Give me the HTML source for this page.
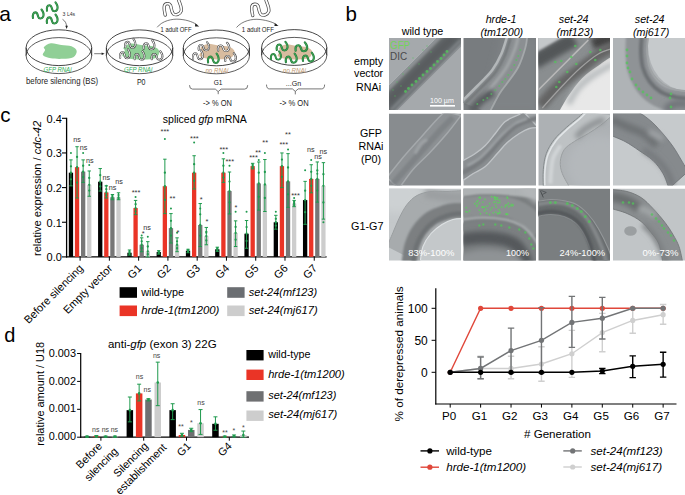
<!DOCTYPE html>
<html><head><meta charset="utf-8"><style>
html,body{margin:0;padding:0;background:#fff;overflow:hidden;}
svg{display:block;}
text{font-family:"Liberation Sans",sans-serif;}
</style></head><body>
<svg width="685" height="495" viewBox="0 0 685 495">
<rect width="685" height="495" fill="#fff"/>
<line x1="66.6" y1="117.80" x2="66.6" y2="257.50" stroke="#000" stroke-width="1.3"/>
<line x1="66.0" y1="256.9" x2="326.6" y2="256.9" stroke="#000" stroke-width="1.3"/>
<line x1="61.99999999999999" y1="256.90" x2="66.6" y2="256.90" stroke="#000" stroke-width="1.1"/>
<text x="61.90" y="261.30" font-size="11" text-anchor="end">0.0</text>
<line x1="61.99999999999999" y1="222.25" x2="66.6" y2="222.25" stroke="#000" stroke-width="1.1"/>
<text x="61.90" y="226.65" font-size="11" text-anchor="end">0.1</text>
<line x1="61.99999999999999" y1="187.60" x2="66.6" y2="187.60" stroke="#000" stroke-width="1.1"/>
<text x="61.90" y="192.00" font-size="11" text-anchor="end">0.2</text>
<line x1="61.99999999999999" y1="152.95" x2="66.6" y2="152.95" stroke="#000" stroke-width="1.1"/>
<text x="61.90" y="157.35" font-size="11" text-anchor="end">0.3</text>
<line x1="61.99999999999999" y1="118.30" x2="66.6" y2="118.30" stroke="#000" stroke-width="1.1"/>
<text x="61.90" y="122.70" font-size="11" text-anchor="end">0.4</text>
<text transform="translate(41.2,256) rotate(-90)" font-size="11.1" fill="#000">relative expression / <tspan font-style="italic">cdc-42</tspan></text>
<text x="162.8" y="122.6" font-size="10.5">spliced <tspan font-style="italic">gfp</tspan> mRNA</text>
<rect x="68.80" y="172.70" width="4.3" height="84.20" fill="#000"/>
<rect x="74.90" y="167.16" width="4.3" height="89.74" fill="#ea3426"/>
<rect x="81.00" y="171.66" width="4.3" height="85.24" fill="#777777"/>
<rect x="87.10" y="184.83" width="4.3" height="72.07" fill="#cdcdcd"/>
<line x1="80.10" y1="256.9" x2="80.10" y2="260.7" stroke="#000" stroke-width="1"/>
<rect x="98.07" y="181.71" width="4.3" height="75.19" fill="#000"/>
<rect x="104.17" y="192.45" width="4.3" height="64.45" fill="#ea3426"/>
<rect x="110.27" y="197.30" width="4.3" height="59.60" fill="#777777"/>
<rect x="116.37" y="197.30" width="4.3" height="59.60" fill="#cdcdcd"/>
<line x1="109.37" y1="256.9" x2="109.37" y2="260.7" stroke="#000" stroke-width="1"/>
<rect x="127.34" y="252.74" width="4.3" height="4.16" fill="#000"/>
<rect x="133.44" y="208.04" width="4.3" height="48.86" fill="#ea3426"/>
<rect x="139.54" y="244.77" width="4.3" height="12.13" fill="#777777"/>
<rect x="145.64" y="251.36" width="4.3" height="5.54" fill="#cdcdcd"/>
<line x1="138.64" y1="256.9" x2="138.64" y2="260.7" stroke="#000" stroke-width="1"/>
<rect x="156.61" y="252.05" width="4.3" height="4.85" fill="#000"/>
<rect x="162.71" y="186.21" width="4.3" height="70.69" fill="#ea3426"/>
<rect x="168.81" y="228.14" width="4.3" height="28.76" fill="#777777"/>
<rect x="174.91" y="244.77" width="4.3" height="12.13" fill="#cdcdcd"/>
<line x1="167.91" y1="256.9" x2="167.91" y2="260.7" stroke="#000" stroke-width="1"/>
<rect x="185.88" y="250.66" width="4.3" height="6.24" fill="#000"/>
<rect x="191.98" y="172.70" width="4.3" height="84.20" fill="#ea3426"/>
<rect x="198.08" y="225.02" width="4.3" height="31.88" fill="#777777"/>
<rect x="204.18" y="236.11" width="4.3" height="20.79" fill="#cdcdcd"/>
<line x1="197.18" y1="256.9" x2="197.18" y2="260.7" stroke="#000" stroke-width="1"/>
<rect x="215.15" y="249.28" width="4.3" height="7.62" fill="#000"/>
<rect x="221.25" y="172.70" width="4.3" height="84.20" fill="#ea3426"/>
<rect x="227.35" y="191.06" width="4.3" height="65.83" fill="#777777"/>
<rect x="233.45" y="232.99" width="4.3" height="23.91" fill="#cdcdcd"/>
<line x1="226.45" y1="256.9" x2="226.45" y2="260.7" stroke="#000" stroke-width="1"/>
<rect x="244.42" y="233.68" width="4.3" height="23.22" fill="#000"/>
<rect x="250.52" y="166.12" width="4.3" height="90.78" fill="#ea3426"/>
<rect x="256.62" y="183.44" width="4.3" height="73.46" fill="#777777"/>
<rect x="262.72" y="184.48" width="4.3" height="72.42" fill="#cdcdcd"/>
<line x1="255.72" y1="256.9" x2="255.72" y2="260.7" stroke="#000" stroke-width="1"/>
<rect x="273.69" y="222.25" width="4.3" height="34.65" fill="#000"/>
<rect x="279.79" y="166.12" width="4.3" height="90.78" fill="#ea3426"/>
<rect x="285.89" y="181.36" width="4.3" height="75.54" fill="#777777"/>
<rect x="291.99" y="203.54" width="4.3" height="53.36" fill="#cdcdcd"/>
<line x1="284.99" y1="256.9" x2="284.99" y2="260.7" stroke="#000" stroke-width="1"/>
<rect x="302.96" y="200.07" width="4.3" height="56.83" fill="#000"/>
<rect x="309.06" y="178.94" width="4.3" height="77.96" fill="#ea3426"/>
<rect x="315.16" y="178.94" width="4.3" height="77.96" fill="#777777"/>
<rect x="321.26" y="185.87" width="4.3" height="71.03" fill="#cdcdcd"/>
<line x1="314.26" y1="256.9" x2="314.26" y2="260.7" stroke="#000" stroke-width="1"/>
<line x1="70.95" y1="159.88" x2="70.95" y2="185.87" stroke="#1f9a4e" stroke-width="1.0"/>
<line x1="69.25" y1="159.88" x2="72.65" y2="159.88" stroke="#1f9a4e" stroke-width="1.0"/>
<line x1="69.25" y1="185.87" x2="72.65" y2="185.87" stroke="#1f9a4e" stroke-width="1.0"/>
<circle cx="70.95" cy="172.70" r="1.15" fill="#1f9a4e"/>
<circle cx="70.95" cy="166.29" r="1.15" fill="#1f9a4e"/>
<circle cx="70.95" cy="179.28" r="1.15" fill="#1f9a4e"/>
<line x1="77.05" y1="146.71" x2="77.05" y2="197.99" stroke="#1f9a4e" stroke-width="1.0"/>
<line x1="75.35" y1="146.71" x2="78.75" y2="146.71" stroke="#1f9a4e" stroke-width="1.0"/>
<line x1="75.35" y1="197.99" x2="78.75" y2="197.99" stroke="#1f9a4e" stroke-width="1.0"/>
<circle cx="77.05" cy="167.16" r="1.15" fill="#1f9a4e"/>
<circle cx="77.05" cy="156.93" r="1.15" fill="#1f9a4e"/>
<circle cx="77.05" cy="182.58" r="1.15" fill="#1f9a4e"/>
<line x1="83.15" y1="159.88" x2="83.15" y2="182.40" stroke="#1f9a4e" stroke-width="1.0"/>
<line x1="81.45" y1="159.88" x2="84.85" y2="159.88" stroke="#1f9a4e" stroke-width="1.0"/>
<line x1="81.45" y1="182.40" x2="84.85" y2="182.40" stroke="#1f9a4e" stroke-width="1.0"/>
<circle cx="83.15" cy="171.66" r="1.15" fill="#1f9a4e"/>
<circle cx="83.15" cy="165.77" r="1.15" fill="#1f9a4e"/>
<circle cx="83.15" cy="177.03" r="1.15" fill="#1f9a4e"/>
<line x1="89.25" y1="170.97" x2="89.25" y2="196.26" stroke="#1f9a4e" stroke-width="1.0"/>
<line x1="87.55" y1="170.97" x2="90.95" y2="170.97" stroke="#1f9a4e" stroke-width="1.0"/>
<line x1="87.55" y1="196.26" x2="90.95" y2="196.26" stroke="#1f9a4e" stroke-width="1.0"/>
<circle cx="89.25" cy="184.83" r="1.15" fill="#1f9a4e"/>
<circle cx="89.25" cy="177.90" r="1.15" fill="#1f9a4e"/>
<circle cx="89.25" cy="190.55" r="1.15" fill="#1f9a4e"/>
<line x1="100.22" y1="168.54" x2="100.22" y2="191.06" stroke="#1f9a4e" stroke-width="1.0"/>
<line x1="98.52" y1="168.54" x2="101.92" y2="168.54" stroke="#1f9a4e" stroke-width="1.0"/>
<line x1="98.52" y1="191.06" x2="101.92" y2="191.06" stroke="#1f9a4e" stroke-width="1.0"/>
<circle cx="100.22" cy="181.71" r="1.15" fill="#1f9a4e"/>
<circle cx="100.22" cy="175.13" r="1.15" fill="#1f9a4e"/>
<circle cx="100.22" cy="186.39" r="1.15" fill="#1f9a4e"/>
<line x1="106.32" y1="185.87" x2="106.32" y2="197.99" stroke="#1f9a4e" stroke-width="1.0"/>
<line x1="104.62" y1="185.87" x2="108.02" y2="185.87" stroke="#1f9a4e" stroke-width="1.0"/>
<line x1="104.62" y1="197.99" x2="108.02" y2="197.99" stroke="#1f9a4e" stroke-width="1.0"/>
<circle cx="106.32" cy="192.45" r="1.15" fill="#1f9a4e"/>
<circle cx="106.32" cy="189.16" r="1.15" fill="#1f9a4e"/>
<circle cx="106.32" cy="195.22" r="1.15" fill="#1f9a4e"/>
<line x1="112.42" y1="194.53" x2="112.42" y2="199.73" stroke="#1f9a4e" stroke-width="1.0"/>
<line x1="110.72" y1="194.53" x2="114.12" y2="194.53" stroke="#1f9a4e" stroke-width="1.0"/>
<line x1="110.72" y1="199.73" x2="114.12" y2="199.73" stroke="#1f9a4e" stroke-width="1.0"/>
<circle cx="112.42" cy="197.30" r="1.15" fill="#1f9a4e"/>
<circle cx="112.42" cy="195.92" r="1.15" fill="#1f9a4e"/>
<circle cx="112.42" cy="198.51" r="1.15" fill="#1f9a4e"/>
<line x1="118.52" y1="192.80" x2="118.52" y2="199.73" stroke="#1f9a4e" stroke-width="1.0"/>
<line x1="116.82" y1="192.80" x2="120.22" y2="192.80" stroke="#1f9a4e" stroke-width="1.0"/>
<line x1="116.82" y1="199.73" x2="120.22" y2="199.73" stroke="#1f9a4e" stroke-width="1.0"/>
<circle cx="118.52" cy="197.30" r="1.15" fill="#1f9a4e"/>
<circle cx="118.52" cy="195.05" r="1.15" fill="#1f9a4e"/>
<circle cx="118.52" cy="198.51" r="1.15" fill="#1f9a4e"/>
<line x1="129.49" y1="249.97" x2="129.49" y2="255.17" stroke="#1f9a4e" stroke-width="1.0"/>
<line x1="127.79" y1="249.97" x2="131.19" y2="249.97" stroke="#1f9a4e" stroke-width="1.0"/>
<line x1="127.79" y1="255.17" x2="131.19" y2="255.17" stroke="#1f9a4e" stroke-width="1.0"/>
<circle cx="129.49" cy="252.74" r="1.15" fill="#1f9a4e"/>
<circle cx="129.49" cy="251.36" r="1.15" fill="#1f9a4e"/>
<circle cx="129.49" cy="253.95" r="1.15" fill="#1f9a4e"/>
<line x1="135.59" y1="200.42" x2="135.59" y2="214.63" stroke="#1f9a4e" stroke-width="1.0"/>
<line x1="133.89" y1="200.42" x2="137.29" y2="200.42" stroke="#1f9a4e" stroke-width="1.0"/>
<line x1="133.89" y1="214.63" x2="137.29" y2="214.63" stroke="#1f9a4e" stroke-width="1.0"/>
<circle cx="135.59" cy="208.04" r="1.15" fill="#1f9a4e"/>
<circle cx="135.59" cy="204.23" r="1.15" fill="#1f9a4e"/>
<circle cx="135.59" cy="211.34" r="1.15" fill="#1f9a4e"/>
<line x1="141.69" y1="237.84" x2="141.69" y2="251.70" stroke="#1f9a4e" stroke-width="1.0"/>
<line x1="139.99" y1="237.84" x2="143.39" y2="237.84" stroke="#1f9a4e" stroke-width="1.0"/>
<line x1="139.99" y1="251.70" x2="143.39" y2="251.70" stroke="#1f9a4e" stroke-width="1.0"/>
<circle cx="141.69" cy="244.77" r="1.15" fill="#1f9a4e"/>
<circle cx="141.69" cy="241.31" r="1.15" fill="#1f9a4e"/>
<circle cx="141.69" cy="248.24" r="1.15" fill="#1f9a4e"/>
<line x1="147.79" y1="241.65" x2="147.79" y2="256.90" stroke="#1f9a4e" stroke-width="1.0"/>
<line x1="146.09" y1="241.65" x2="149.49" y2="241.65" stroke="#1f9a4e" stroke-width="1.0"/>
<line x1="146.09" y1="256.90" x2="149.49" y2="256.90" stroke="#1f9a4e" stroke-width="1.0"/>
<circle cx="147.79" cy="251.36" r="1.15" fill="#1f9a4e"/>
<circle cx="147.79" cy="246.50" r="1.15" fill="#1f9a4e"/>
<circle cx="147.79" cy="254.13" r="1.15" fill="#1f9a4e"/>
<line x1="158.76" y1="250.66" x2="158.76" y2="254.13" stroke="#1f9a4e" stroke-width="1.0"/>
<line x1="157.06" y1="250.66" x2="160.46" y2="250.66" stroke="#1f9a4e" stroke-width="1.0"/>
<line x1="157.06" y1="254.13" x2="160.46" y2="254.13" stroke="#1f9a4e" stroke-width="1.0"/>
<circle cx="158.76" cy="252.05" r="1.15" fill="#1f9a4e"/>
<circle cx="158.76" cy="251.36" r="1.15" fill="#1f9a4e"/>
<circle cx="158.76" cy="253.09" r="1.15" fill="#1f9a4e"/>
<line x1="164.86" y1="159.19" x2="164.86" y2="213.59" stroke="#1f9a4e" stroke-width="1.0"/>
<line x1="163.16" y1="159.19" x2="166.56" y2="159.19" stroke="#1f9a4e" stroke-width="1.0"/>
<line x1="163.16" y1="213.59" x2="166.56" y2="213.59" stroke="#1f9a4e" stroke-width="1.0"/>
<circle cx="164.86" cy="186.21" r="1.15" fill="#1f9a4e"/>
<circle cx="164.86" cy="172.70" r="1.15" fill="#1f9a4e"/>
<circle cx="164.86" cy="199.90" r="1.15" fill="#1f9a4e"/>
<line x1="170.96" y1="213.59" x2="170.96" y2="243.04" stroke="#1f9a4e" stroke-width="1.0"/>
<line x1="169.26" y1="213.59" x2="172.66" y2="213.59" stroke="#1f9a4e" stroke-width="1.0"/>
<line x1="169.26" y1="243.04" x2="172.66" y2="243.04" stroke="#1f9a4e" stroke-width="1.0"/>
<circle cx="170.96" cy="228.14" r="1.15" fill="#1f9a4e"/>
<circle cx="170.96" cy="220.86" r="1.15" fill="#1f9a4e"/>
<circle cx="170.96" cy="235.59" r="1.15" fill="#1f9a4e"/>
<line x1="177.06" y1="237.84" x2="177.06" y2="251.70" stroke="#1f9a4e" stroke-width="1.0"/>
<line x1="175.36" y1="237.84" x2="178.76" y2="237.84" stroke="#1f9a4e" stroke-width="1.0"/>
<line x1="175.36" y1="251.70" x2="178.76" y2="251.70" stroke="#1f9a4e" stroke-width="1.0"/>
<circle cx="177.06" cy="244.77" r="1.15" fill="#1f9a4e"/>
<circle cx="177.06" cy="241.31" r="1.15" fill="#1f9a4e"/>
<circle cx="177.06" cy="248.24" r="1.15" fill="#1f9a4e"/>
<line x1="188.03" y1="249.28" x2="188.03" y2="252.74" stroke="#1f9a4e" stroke-width="1.0"/>
<line x1="186.33" y1="249.28" x2="189.73" y2="249.28" stroke="#1f9a4e" stroke-width="1.0"/>
<line x1="186.33" y1="252.74" x2="189.73" y2="252.74" stroke="#1f9a4e" stroke-width="1.0"/>
<circle cx="188.03" cy="250.66" r="1.15" fill="#1f9a4e"/>
<circle cx="188.03" cy="249.97" r="1.15" fill="#1f9a4e"/>
<circle cx="188.03" cy="251.70" r="1.15" fill="#1f9a4e"/>
<line x1="194.13" y1="155.72" x2="194.13" y2="188.99" stroke="#1f9a4e" stroke-width="1.0"/>
<line x1="192.43" y1="155.72" x2="195.83" y2="155.72" stroke="#1f9a4e" stroke-width="1.0"/>
<line x1="192.43" y1="188.99" x2="195.83" y2="188.99" stroke="#1f9a4e" stroke-width="1.0"/>
<circle cx="194.13" cy="172.70" r="1.15" fill="#1f9a4e"/>
<circle cx="194.13" cy="164.21" r="1.15" fill="#1f9a4e"/>
<circle cx="194.13" cy="180.84" r="1.15" fill="#1f9a4e"/>
<line x1="200.23" y1="203.54" x2="200.23" y2="246.50" stroke="#1f9a4e" stroke-width="1.0"/>
<line x1="198.53" y1="203.54" x2="201.93" y2="203.54" stroke="#1f9a4e" stroke-width="1.0"/>
<line x1="198.53" y1="246.50" x2="201.93" y2="246.50" stroke="#1f9a4e" stroke-width="1.0"/>
<circle cx="200.23" cy="225.02" r="1.15" fill="#1f9a4e"/>
<circle cx="200.23" cy="214.28" r="1.15" fill="#1f9a4e"/>
<circle cx="200.23" cy="235.76" r="1.15" fill="#1f9a4e"/>
<line x1="206.33" y1="227.45" x2="206.33" y2="244.77" stroke="#1f9a4e" stroke-width="1.0"/>
<line x1="204.63" y1="227.45" x2="208.03" y2="227.45" stroke="#1f9a4e" stroke-width="1.0"/>
<line x1="204.63" y1="244.77" x2="208.03" y2="244.77" stroke="#1f9a4e" stroke-width="1.0"/>
<circle cx="206.33" cy="236.11" r="1.15" fill="#1f9a4e"/>
<circle cx="206.33" cy="231.78" r="1.15" fill="#1f9a4e"/>
<circle cx="206.33" cy="240.44" r="1.15" fill="#1f9a4e"/>
<line x1="217.30" y1="247.20" x2="217.30" y2="251.36" stroke="#1f9a4e" stroke-width="1.0"/>
<line x1="215.60" y1="247.20" x2="219.00" y2="247.20" stroke="#1f9a4e" stroke-width="1.0"/>
<line x1="215.60" y1="251.36" x2="219.00" y2="251.36" stroke="#1f9a4e" stroke-width="1.0"/>
<circle cx="217.30" cy="249.28" r="1.15" fill="#1f9a4e"/>
<circle cx="217.30" cy="248.24" r="1.15" fill="#1f9a4e"/>
<circle cx="217.30" cy="250.32" r="1.15" fill="#1f9a4e"/>
<line x1="223.40" y1="158.84" x2="223.40" y2="182.40" stroke="#1f9a4e" stroke-width="1.0"/>
<line x1="221.70" y1="158.84" x2="225.10" y2="158.84" stroke="#1f9a4e" stroke-width="1.0"/>
<line x1="221.70" y1="182.40" x2="225.10" y2="182.40" stroke="#1f9a4e" stroke-width="1.0"/>
<circle cx="223.40" cy="172.70" r="1.15" fill="#1f9a4e"/>
<circle cx="223.40" cy="165.77" r="1.15" fill="#1f9a4e"/>
<circle cx="223.40" cy="177.55" r="1.15" fill="#1f9a4e"/>
<line x1="229.50" y1="172.01" x2="229.50" y2="213.93" stroke="#1f9a4e" stroke-width="1.0"/>
<line x1="227.80" y1="172.01" x2="231.20" y2="172.01" stroke="#1f9a4e" stroke-width="1.0"/>
<line x1="227.80" y1="213.93" x2="231.20" y2="213.93" stroke="#1f9a4e" stroke-width="1.0"/>
<circle cx="229.50" cy="191.06" r="1.15" fill="#1f9a4e"/>
<circle cx="229.50" cy="181.54" r="1.15" fill="#1f9a4e"/>
<circle cx="229.50" cy="202.50" r="1.15" fill="#1f9a4e"/>
<line x1="235.60" y1="220.86" x2="235.60" y2="246.50" stroke="#1f9a4e" stroke-width="1.0"/>
<line x1="233.90" y1="220.86" x2="237.30" y2="220.86" stroke="#1f9a4e" stroke-width="1.0"/>
<line x1="233.90" y1="246.50" x2="237.30" y2="246.50" stroke="#1f9a4e" stroke-width="1.0"/>
<circle cx="235.60" cy="232.99" r="1.15" fill="#1f9a4e"/>
<circle cx="235.60" cy="226.93" r="1.15" fill="#1f9a4e"/>
<circle cx="235.60" cy="239.75" r="1.15" fill="#1f9a4e"/>
<line x1="246.57" y1="220.52" x2="246.57" y2="248.24" stroke="#1f9a4e" stroke-width="1.0"/>
<line x1="244.87" y1="220.52" x2="248.27" y2="220.52" stroke="#1f9a4e" stroke-width="1.0"/>
<line x1="244.87" y1="248.24" x2="248.27" y2="248.24" stroke="#1f9a4e" stroke-width="1.0"/>
<circle cx="246.57" cy="233.68" r="1.15" fill="#1f9a4e"/>
<circle cx="246.57" cy="227.10" r="1.15" fill="#1f9a4e"/>
<circle cx="246.57" cy="240.96" r="1.15" fill="#1f9a4e"/>
<line x1="252.67" y1="163.34" x2="252.67" y2="168.89" stroke="#1f9a4e" stroke-width="1.0"/>
<line x1="250.97" y1="163.34" x2="254.37" y2="163.34" stroke="#1f9a4e" stroke-width="1.0"/>
<line x1="250.97" y1="168.89" x2="254.37" y2="168.89" stroke="#1f9a4e" stroke-width="1.0"/>
<circle cx="252.67" cy="166.12" r="1.15" fill="#1f9a4e"/>
<circle cx="252.67" cy="164.73" r="1.15" fill="#1f9a4e"/>
<circle cx="252.67" cy="167.50" r="1.15" fill="#1f9a4e"/>
<line x1="258.77" y1="161.96" x2="258.77" y2="210.12" stroke="#1f9a4e" stroke-width="1.0"/>
<line x1="257.07" y1="161.96" x2="260.47" y2="161.96" stroke="#1f9a4e" stroke-width="1.0"/>
<line x1="257.07" y1="210.12" x2="260.47" y2="210.12" stroke="#1f9a4e" stroke-width="1.0"/>
<circle cx="258.77" cy="183.44" r="1.15" fill="#1f9a4e"/>
<circle cx="258.77" cy="172.70" r="1.15" fill="#1f9a4e"/>
<circle cx="258.77" cy="196.78" r="1.15" fill="#1f9a4e"/>
<line x1="264.87" y1="159.53" x2="264.87" y2="211.51" stroke="#1f9a4e" stroke-width="1.0"/>
<line x1="263.17" y1="159.53" x2="266.57" y2="159.53" stroke="#1f9a4e" stroke-width="1.0"/>
<line x1="263.17" y1="211.51" x2="266.57" y2="211.51" stroke="#1f9a4e" stroke-width="1.0"/>
<circle cx="264.87" cy="184.48" r="1.15" fill="#1f9a4e"/>
<circle cx="264.87" cy="172.01" r="1.15" fill="#1f9a4e"/>
<circle cx="264.87" cy="197.99" r="1.15" fill="#1f9a4e"/>
<line x1="275.84" y1="215.32" x2="275.84" y2="229.18" stroke="#1f9a4e" stroke-width="1.0"/>
<line x1="274.14" y1="215.32" x2="277.54" y2="215.32" stroke="#1f9a4e" stroke-width="1.0"/>
<line x1="274.14" y1="229.18" x2="277.54" y2="229.18" stroke="#1f9a4e" stroke-width="1.0"/>
<circle cx="275.84" cy="222.25" r="1.15" fill="#1f9a4e"/>
<circle cx="275.84" cy="218.78" r="1.15" fill="#1f9a4e"/>
<circle cx="275.84" cy="225.71" r="1.15" fill="#1f9a4e"/>
<line x1="281.94" y1="152.95" x2="281.94" y2="187.60" stroke="#1f9a4e" stroke-width="1.0"/>
<line x1="280.24" y1="152.95" x2="283.64" y2="152.95" stroke="#1f9a4e" stroke-width="1.0"/>
<line x1="280.24" y1="187.60" x2="283.64" y2="187.60" stroke="#1f9a4e" stroke-width="1.0"/>
<circle cx="281.94" cy="166.12" r="1.15" fill="#1f9a4e"/>
<circle cx="281.94" cy="159.53" r="1.15" fill="#1f9a4e"/>
<circle cx="281.94" cy="176.86" r="1.15" fill="#1f9a4e"/>
<line x1="288.04" y1="153.64" x2="288.04" y2="207.35" stroke="#1f9a4e" stroke-width="1.0"/>
<line x1="286.34" y1="153.64" x2="289.74" y2="153.64" stroke="#1f9a4e" stroke-width="1.0"/>
<line x1="286.34" y1="207.35" x2="289.74" y2="207.35" stroke="#1f9a4e" stroke-width="1.0"/>
<circle cx="288.04" cy="181.36" r="1.15" fill="#1f9a4e"/>
<circle cx="288.04" cy="167.50" r="1.15" fill="#1f9a4e"/>
<circle cx="288.04" cy="194.36" r="1.15" fill="#1f9a4e"/>
<line x1="294.14" y1="200.42" x2="294.14" y2="206.66" stroke="#1f9a4e" stroke-width="1.0"/>
<line x1="292.44" y1="200.42" x2="295.84" y2="200.42" stroke="#1f9a4e" stroke-width="1.0"/>
<line x1="292.44" y1="206.66" x2="295.84" y2="206.66" stroke="#1f9a4e" stroke-width="1.0"/>
<circle cx="294.14" cy="203.54" r="1.15" fill="#1f9a4e"/>
<circle cx="294.14" cy="201.98" r="1.15" fill="#1f9a4e"/>
<circle cx="294.14" cy="205.10" r="1.15" fill="#1f9a4e"/>
<line x1="305.11" y1="181.36" x2="305.11" y2="224.33" stroke="#1f9a4e" stroke-width="1.0"/>
<line x1="303.41" y1="181.36" x2="306.81" y2="181.36" stroke="#1f9a4e" stroke-width="1.0"/>
<line x1="303.41" y1="224.33" x2="306.81" y2="224.33" stroke="#1f9a4e" stroke-width="1.0"/>
<circle cx="305.11" cy="200.07" r="1.15" fill="#1f9a4e"/>
<circle cx="305.11" cy="190.72" r="1.15" fill="#1f9a4e"/>
<circle cx="305.11" cy="212.20" r="1.15" fill="#1f9a4e"/>
<line x1="311.21" y1="164.73" x2="311.21" y2="192.80" stroke="#1f9a4e" stroke-width="1.0"/>
<line x1="309.51" y1="164.73" x2="312.91" y2="164.73" stroke="#1f9a4e" stroke-width="1.0"/>
<line x1="309.51" y1="192.80" x2="312.91" y2="192.80" stroke="#1f9a4e" stroke-width="1.0"/>
<circle cx="311.21" cy="178.94" r="1.15" fill="#1f9a4e"/>
<circle cx="311.21" cy="171.83" r="1.15" fill="#1f9a4e"/>
<circle cx="311.21" cy="185.87" r="1.15" fill="#1f9a4e"/>
<line x1="317.31" y1="161.96" x2="317.31" y2="202.15" stroke="#1f9a4e" stroke-width="1.0"/>
<line x1="315.61" y1="161.96" x2="319.01" y2="161.96" stroke="#1f9a4e" stroke-width="1.0"/>
<line x1="315.61" y1="202.15" x2="319.01" y2="202.15" stroke="#1f9a4e" stroke-width="1.0"/>
<circle cx="317.31" cy="178.94" r="1.15" fill="#1f9a4e"/>
<circle cx="317.31" cy="170.45" r="1.15" fill="#1f9a4e"/>
<circle cx="317.31" cy="190.55" r="1.15" fill="#1f9a4e"/>
<line x1="323.41" y1="162.65" x2="323.41" y2="219.13" stroke="#1f9a4e" stroke-width="1.0"/>
<line x1="321.71" y1="162.65" x2="325.11" y2="162.65" stroke="#1f9a4e" stroke-width="1.0"/>
<line x1="321.71" y1="219.13" x2="325.11" y2="219.13" stroke="#1f9a4e" stroke-width="1.0"/>
<circle cx="323.41" cy="185.87" r="1.15" fill="#1f9a4e"/>
<circle cx="323.41" cy="174.26" r="1.15" fill="#1f9a4e"/>
<circle cx="323.41" cy="202.50" r="1.15" fill="#1f9a4e"/>
<circle cx="70.95" cy="152.95" r="1.0" fill="#1f9a4e"/>
<circle cx="83.15" cy="152.95" r="1.0" fill="#1f9a4e"/>
<circle cx="89.25" cy="165.08" r="1.0" fill="#1f9a4e"/>
<circle cx="106.32" cy="185.87" r="1.0" fill="#1f9a4e"/>
<circle cx="135.59" cy="196.96" r="1.0" fill="#1f9a4e"/>
<circle cx="141.69" cy="235.42" r="1.0" fill="#1f9a4e"/>
<circle cx="147.79" cy="236.80" r="1.0" fill="#1f9a4e"/>
<circle cx="164.86" cy="139.09" r="1.0" fill="#1f9a4e"/>
<circle cx="170.96" cy="208.39" r="1.0" fill="#1f9a4e"/>
<circle cx="177.06" cy="232.64" r="1.0" fill="#1f9a4e"/>
<circle cx="194.13" cy="142.55" r="1.0" fill="#1f9a4e"/>
<circle cx="200.23" cy="208.39" r="1.0" fill="#1f9a4e"/>
<circle cx="206.33" cy="232.64" r="1.0" fill="#1f9a4e"/>
<circle cx="223.40" cy="152.95" r="1.0" fill="#1f9a4e"/>
<circle cx="229.50" cy="165.77" r="1.0" fill="#1f9a4e"/>
<circle cx="235.60" cy="211.85" r="1.0" fill="#1f9a4e"/>
<circle cx="246.57" cy="211.85" r="1.0" fill="#1f9a4e"/>
<circle cx="258.77" cy="159.88" r="1.0" fill="#1f9a4e"/>
<circle cx="264.87" cy="152.95" r="1.0" fill="#1f9a4e"/>
<circle cx="275.84" cy="211.85" r="1.0" fill="#1f9a4e"/>
<circle cx="288.04" cy="149.48" r="1.0" fill="#1f9a4e"/>
<circle cx="294.14" cy="197.99" r="1.0" fill="#1f9a4e"/>
<circle cx="305.11" cy="170.27" r="1.0" fill="#1f9a4e"/>
<circle cx="311.21" cy="159.88" r="1.0" fill="#1f9a4e"/>
<circle cx="317.31" cy="173.74" r="1.0" fill="#1f9a4e"/>
<circle cx="323.41" cy="222.25" r="1.0" fill="#1f9a4e"/>
<text transform="translate(83.80,269.00) rotate(-45)" font-size="11" text-anchor="end">Before silencing</text>
<text transform="translate(113.07,269.00) rotate(-45)" font-size="11" text-anchor="end">Empty vector</text>
<text transform="translate(142.34,269.00) rotate(-45)" font-size="11" text-anchor="end">G1</text>
<text transform="translate(171.61,269.00) rotate(-45)" font-size="11" text-anchor="end">G2</text>
<text transform="translate(200.88,269.00) rotate(-45)" font-size="11" text-anchor="end">G3</text>
<text transform="translate(230.15,269.00) rotate(-45)" font-size="11" text-anchor="end">G4</text>
<text transform="translate(259.42,269.00) rotate(-45)" font-size="11" text-anchor="end">G5</text>
<text transform="translate(288.69,269.00) rotate(-45)" font-size="11" text-anchor="end">G6</text>
<text transform="translate(317.96,269.00) rotate(-45)" font-size="11" text-anchor="end">G7</text>
<text x="73.30" y="141.50" font-size="7.2" fill="#333">ns</text>
<text x="79.70" y="149.60" font-size="7.2" fill="#333">ns</text>
<text x="85.90" y="163.30" font-size="7.2" fill="#333">ns</text>
<text x="102.40" y="179.50" font-size="7.2" fill="#333">ns</text>
<text x="108.80" y="189.50" font-size="7.2" fill="#333">ns</text>
<text x="115.30" y="183.50" font-size="7.2" fill="#333">ns</text>
<text x="131.70" y="195.30" font-size="7.4" fill="#333">***</text>
<text x="141.80" y="235.80" font-size="7.4" fill="#333">*</text>
<text x="143.20" y="229.70" font-size="7.2" fill="#333">ns</text>
<text x="160.50" y="134.30" font-size="7.4" fill="#333">***</text>
<text x="169.50" y="201.20" font-size="7.4" fill="#333">**</text>
<text x="176.60" y="234.80" font-size="7.4" fill="#333">*</text>
<text x="190.00" y="140.70" font-size="7.4" fill="#333">***</text>
<text x="199.70" y="201.80" font-size="7.4" fill="#333">*</text>
<text x="205.50" y="223.80" font-size="7.4" fill="#333">*</text>
<text x="219.40" y="151.70" font-size="7.4" fill="#333">***</text>
<text x="225.40" y="163.80" font-size="7.4" fill="#333">***</text>
<text x="234.60" y="209.80" font-size="7.4" fill="#333">*</text>
<text x="249.20" y="160.40" font-size="7.4" fill="#333">***</text>
<text x="255.20" y="155.10" font-size="7.4" fill="#333">**</text>
<text x="262.30" y="144.60" font-size="7.4" fill="#333">**</text>
<text x="279.40" y="147.20" font-size="7.4" fill="#333">***</text>
<text x="285.10" y="136.80" font-size="7.4" fill="#333">**</text>
<text x="291.20" y="198.40" font-size="7.4" fill="#333">***</text>
<text x="306.90" y="152.30" font-size="7.2" fill="#333">ns</text>
<text x="314.30" y="158.90" font-size="7.2" fill="#333">ns</text>
<text x="319.50" y="153.60" font-size="7.2" fill="#333">ns</text>
<rect x="119.6" y="287.2" width="17.4" height="10.6" fill="#000"/>
<text x="141.20" y="295.90" font-size="11" textLength="42.8" lengthAdjust="spacingAndGlyphs">wild-type</text>
<rect x="119.6" y="305.5" width="17.4" height="10.6" fill="#ea3426"/>
<text x="141.20" y="314.20" font-size="11" font-style="italic" textLength="78.2" lengthAdjust="spacingAndGlyphs">hrde-1(tm1200)</text>
<rect x="227.2" y="287.2" width="17.4" height="10.6" fill="#6b6e72"/>
<text x="248.80" y="295.90" font-size="11" font-style="italic" textLength="68.3" lengthAdjust="spacingAndGlyphs">set-24(mf123)</text>
<rect x="227.2" y="305.5" width="17.4" height="10.6" fill="#cdcdcd"/>
<text x="248.80" y="314.20" font-size="11" font-style="italic" textLength="68.8" lengthAdjust="spacingAndGlyphs">set-24(mj617)</text>
<text x="0.30" y="121.90" font-size="20.5">c</text>
<line x1="80.7" y1="353.00" x2="80.7" y2="437.80" stroke="#000" stroke-width="1.2"/>
<line x1="80.10000000000001" y1="437.2" x2="249" y2="437.2" stroke="#000" stroke-width="1.2"/>
<line x1="77.10000000000001" y1="437.20" x2="80.7" y2="437.20" stroke="#000" stroke-width="1"/>
<text x="76.00" y="440.30" font-size="10.9" text-anchor="end">0.000</text>
<line x1="77.10000000000001" y1="409.30" x2="80.7" y2="409.30" stroke="#000" stroke-width="1"/>
<text x="76.00" y="412.40" font-size="10.9" text-anchor="end">0.001</text>
<line x1="77.10000000000001" y1="381.40" x2="80.7" y2="381.40" stroke="#000" stroke-width="1"/>
<text x="76.00" y="384.50" font-size="10.9" text-anchor="end">0.002</text>
<line x1="77.10000000000001" y1="353.50" x2="80.7" y2="353.50" stroke="#000" stroke-width="1"/>
<text x="76.00" y="356.60" font-size="10.9" text-anchor="end">0.003</text>
<text transform="translate(43.9,445.8) rotate(-90)" font-size="10.95">relative amount / U18</text>
<text x="107.9" y="347.5" font-size="11.5">anti-<tspan font-style="italic">gfp</tspan> (exon 3) 22G</text>
<rect x="83.80" y="436.64" width="6.5" height="0.56" fill="#000"/>
<rect x="93.10" y="436.36" width="6.5" height="0.84" fill="#ea3426"/>
<rect x="102.40" y="436.64" width="6.5" height="0.56" fill="#6f7072"/>
<rect x="111.70" y="436.64" width="6.5" height="0.56" fill="#cdcdcd"/>
<line x1="100.90" y1="437.2" x2="100.90" y2="440.7" stroke="#000" stroke-width="1"/>
<rect x="126.60" y="410.14" width="6.5" height="27.06" fill="#000"/>
<rect x="135.90" y="393.40" width="6.5" height="43.80" fill="#ea3426"/>
<rect x="145.20" y="399.53" width="6.5" height="37.67" fill="#6f7072"/>
<rect x="154.50" y="382.52" width="6.5" height="54.68" fill="#cdcdcd"/>
<line x1="143.70" y1="437.2" x2="143.70" y2="440.7" stroke="#000" stroke-width="1"/>
<rect x="169.40" y="410.14" width="6.5" height="27.06" fill="#000"/>
<rect x="178.70" y="434.97" width="6.5" height="2.23" fill="#ea3426"/>
<rect x="188.00" y="429.95" width="6.5" height="7.25" fill="#6f7072"/>
<rect x="197.30" y="423.25" width="6.5" height="13.95" fill="#cdcdcd"/>
<line x1="186.50" y1="437.2" x2="186.50" y2="440.7" stroke="#000" stroke-width="1"/>
<rect x="212.20" y="423.81" width="6.5" height="13.39" fill="#000"/>
<rect x="221.50" y="436.64" width="6.5" height="0.56" fill="#ea3426"/>
<rect x="230.80" y="436.08" width="6.5" height="1.12" fill="#6f7072"/>
<rect x="240.10" y="434.97" width="6.5" height="2.23" fill="#cdcdcd"/>
<line x1="229.30" y1="437.2" x2="229.30" y2="440.7" stroke="#000" stroke-width="1"/>
<line x1="87.05" y1="436.08" x2="87.05" y2="437.20" stroke="#1f9a4e" stroke-width="1"/>
<line x1="85.05" y1="436.08" x2="89.05" y2="436.08" stroke="#1f9a4e" stroke-width="1"/>
<line x1="85.05" y1="437.20" x2="89.05" y2="437.20" stroke="#1f9a4e" stroke-width="1"/>
<circle cx="87.05" cy="436.64" r="1.3" fill="#1f9a4e"/>
<line x1="96.35" y1="435.53" x2="96.35" y2="437.20" stroke="#1f9a4e" stroke-width="1"/>
<line x1="94.35" y1="435.53" x2="98.35" y2="435.53" stroke="#1f9a4e" stroke-width="1"/>
<line x1="94.35" y1="437.20" x2="98.35" y2="437.20" stroke="#1f9a4e" stroke-width="1"/>
<circle cx="96.35" cy="436.36" r="1.3" fill="#1f9a4e"/>
<line x1="105.65" y1="436.08" x2="105.65" y2="437.20" stroke="#1f9a4e" stroke-width="1"/>
<line x1="103.65" y1="436.08" x2="107.65" y2="436.08" stroke="#1f9a4e" stroke-width="1"/>
<line x1="103.65" y1="437.20" x2="107.65" y2="437.20" stroke="#1f9a4e" stroke-width="1"/>
<circle cx="105.65" cy="436.64" r="1.3" fill="#1f9a4e"/>
<line x1="114.95" y1="436.08" x2="114.95" y2="437.20" stroke="#1f9a4e" stroke-width="1"/>
<line x1="112.95" y1="436.08" x2="116.95" y2="436.08" stroke="#1f9a4e" stroke-width="1"/>
<line x1="112.95" y1="437.20" x2="116.95" y2="437.20" stroke="#1f9a4e" stroke-width="1"/>
<circle cx="114.95" cy="436.64" r="1.3" fill="#1f9a4e"/>
<line x1="129.85" y1="397.02" x2="129.85" y2="421.86" stroke="#1f9a4e" stroke-width="1"/>
<line x1="127.85" y1="397.02" x2="131.85" y2="397.02" stroke="#1f9a4e" stroke-width="1"/>
<line x1="127.85" y1="421.86" x2="131.85" y2="421.86" stroke="#1f9a4e" stroke-width="1"/>
<circle cx="129.85" cy="410.14" r="1.3" fill="#1f9a4e"/>
<line x1="139.15" y1="384.19" x2="139.15" y2="400.93" stroke="#1f9a4e" stroke-width="1"/>
<line x1="137.15" y1="384.19" x2="141.15" y2="384.19" stroke="#1f9a4e" stroke-width="1"/>
<line x1="137.15" y1="400.93" x2="141.15" y2="400.93" stroke="#1f9a4e" stroke-width="1"/>
<circle cx="139.15" cy="393.40" r="1.3" fill="#1f9a4e"/>
<line x1="148.45" y1="398.70" x2="148.45" y2="400.93" stroke="#1f9a4e" stroke-width="1"/>
<line x1="146.45" y1="398.70" x2="150.45" y2="398.70" stroke="#1f9a4e" stroke-width="1"/>
<line x1="146.45" y1="400.93" x2="150.45" y2="400.93" stroke="#1f9a4e" stroke-width="1"/>
<circle cx="148.45" cy="399.53" r="1.3" fill="#1f9a4e"/>
<line x1="157.75" y1="362.15" x2="157.75" y2="405.67" stroke="#1f9a4e" stroke-width="1"/>
<line x1="155.75" y1="362.15" x2="159.75" y2="362.15" stroke="#1f9a4e" stroke-width="1"/>
<line x1="155.75" y1="405.67" x2="159.75" y2="405.67" stroke="#1f9a4e" stroke-width="1"/>
<circle cx="157.75" cy="382.52" r="1.3" fill="#1f9a4e"/>
<line x1="172.65" y1="403.72" x2="172.65" y2="419.62" stroke="#1f9a4e" stroke-width="1"/>
<line x1="170.65" y1="403.72" x2="174.65" y2="403.72" stroke="#1f9a4e" stroke-width="1"/>
<line x1="170.65" y1="419.62" x2="174.65" y2="419.62" stroke="#1f9a4e" stroke-width="1"/>
<circle cx="172.65" cy="410.14" r="1.3" fill="#1f9a4e"/>
<line x1="181.95" y1="433.29" x2="181.95" y2="436.36" stroke="#1f9a4e" stroke-width="1"/>
<line x1="179.95" y1="433.29" x2="183.95" y2="433.29" stroke="#1f9a4e" stroke-width="1"/>
<line x1="179.95" y1="436.36" x2="183.95" y2="436.36" stroke="#1f9a4e" stroke-width="1"/>
<circle cx="181.95" cy="434.97" r="1.3" fill="#1f9a4e"/>
<line x1="191.25" y1="428.27" x2="191.25" y2="431.62" stroke="#1f9a4e" stroke-width="1"/>
<line x1="189.25" y1="428.27" x2="193.25" y2="428.27" stroke="#1f9a4e" stroke-width="1"/>
<line x1="189.25" y1="431.62" x2="193.25" y2="431.62" stroke="#1f9a4e" stroke-width="1"/>
<circle cx="191.25" cy="429.95" r="1.3" fill="#1f9a4e"/>
<line x1="200.55" y1="409.58" x2="200.55" y2="434.41" stroke="#1f9a4e" stroke-width="1"/>
<line x1="198.55" y1="409.58" x2="202.55" y2="409.58" stroke="#1f9a4e" stroke-width="1"/>
<line x1="198.55" y1="434.41" x2="202.55" y2="434.41" stroke="#1f9a4e" stroke-width="1"/>
<circle cx="200.55" cy="423.25" r="1.3" fill="#1f9a4e"/>
<line x1="215.45" y1="416.83" x2="215.45" y2="430.22" stroke="#1f9a4e" stroke-width="1"/>
<line x1="213.45" y1="416.83" x2="217.45" y2="416.83" stroke="#1f9a4e" stroke-width="1"/>
<line x1="213.45" y1="430.22" x2="217.45" y2="430.22" stroke="#1f9a4e" stroke-width="1"/>
<circle cx="215.45" cy="423.81" r="1.3" fill="#1f9a4e"/>
<line x1="224.75" y1="436.08" x2="224.75" y2="437.20" stroke="#1f9a4e" stroke-width="1"/>
<line x1="222.75" y1="436.08" x2="226.75" y2="436.08" stroke="#1f9a4e" stroke-width="1"/>
<line x1="222.75" y1="437.20" x2="226.75" y2="437.20" stroke="#1f9a4e" stroke-width="1"/>
<circle cx="224.75" cy="436.64" r="1.3" fill="#1f9a4e"/>
<line x1="234.05" y1="434.97" x2="234.05" y2="436.92" stroke="#1f9a4e" stroke-width="1"/>
<line x1="232.05" y1="434.97" x2="236.05" y2="434.97" stroke="#1f9a4e" stroke-width="1"/>
<line x1="232.05" y1="436.92" x2="236.05" y2="436.92" stroke="#1f9a4e" stroke-width="1"/>
<circle cx="234.05" cy="436.08" r="1.3" fill="#1f9a4e"/>
<line x1="243.35" y1="431.06" x2="243.35" y2="437.20" stroke="#1f9a4e" stroke-width="1"/>
<line x1="241.35" y1="431.06" x2="245.35" y2="431.06" stroke="#1f9a4e" stroke-width="1"/>
<line x1="241.35" y1="437.20" x2="245.35" y2="437.20" stroke="#1f9a4e" stroke-width="1"/>
<circle cx="243.35" cy="434.97" r="1.3" fill="#1f9a4e"/>
<text transform="translate(102.80,446.80) rotate(-45)" font-size="10.8" text-anchor="end">Before</text>
<text transform="translate(118.60,452.00) rotate(-45)" font-size="10.8" text-anchor="end">silencing</text>
<text transform="translate(148.80,446.80) rotate(-45)" font-size="10.8" text-anchor="end">Silencing</text>
<text transform="translate(167.20,448.10) rotate(-45)" font-size="10.8" text-anchor="end">establishment</text>
<text transform="translate(191.40,446.80) rotate(-45)" font-size="10.8" text-anchor="end">G1</text>
<text transform="translate(232.40,446.80) rotate(-45)" font-size="10.8" text-anchor="end">G4</text>
<text x="92.10" y="431.70" font-size="7" fill="#444">ns</text>
<text x="101.70" y="431.70" font-size="7" fill="#444">ns</text>
<text x="110.70" y="431.70" font-size="7" fill="#444">ns</text>
<text x="135.80" y="378.60" font-size="7" fill="#444">ns</text>
<text x="143.60" y="392.20" font-size="7" fill="#444">ns</text>
<text x="152.90" y="358.20" font-size="7" fill="#444">ns</text>
<text x="178.30" y="428.50" font-size="7" fill="#444">**</text>
<text x="190.00" y="425.00" font-size="7" fill="#444">*</text>
<text x="197.30" y="404.70" font-size="7" fill="#444">ns</text>
<text x="222.30" y="434.50" font-size="7" fill="#444">**</text>
<text x="232.40" y="432.50" font-size="7" fill="#444">*</text>
<text x="241.90" y="430.00" font-size="7" fill="#444">*</text>
<rect x="246.4" y="350" width="17.2" height="10.4" fill="#000"/>
<text x="268.20" y="357.90" font-size="10.8" textLength="42.3" lengthAdjust="spacingAndGlyphs">wild-type</text>
<rect x="246.4" y="369.6" width="17.2" height="10.4" fill="#ea3426"/>
<text x="268.20" y="377.50" font-size="10.8" font-style="italic" textLength="76.5" lengthAdjust="spacingAndGlyphs">hrde-1(tm1200)</text>
<rect x="246.4" y="391.2" width="17.2" height="10.4" fill="#6f7072"/>
<text x="268.20" y="399.10" font-size="10.8" font-style="italic" textLength="68.1" lengthAdjust="spacingAndGlyphs">set-24(mf123)</text>
<rect x="246.4" y="410.5" width="17.2" height="10.4" fill="#cdcdcd"/>
<text x="268.20" y="418.40" font-size="10.8" font-style="italic" textLength="69" lengthAdjust="spacingAndGlyphs">set-24(mj617)</text>
<text x="4.20" y="341.60" font-size="20">d</text>
<line x1="435.8" y1="288.2" x2="435.8" y2="404.6" stroke="#000" stroke-width="1.2"/>
<line x1="435.2" y1="404.0" x2="676.5" y2="404.0" stroke="#000" stroke-width="1.2"/>
<line x1="431.6" y1="372.30" x2="435.8" y2="372.30" stroke="#000" stroke-width="1"/>
<text x="427.80" y="376.60" font-size="12" text-anchor="end">0</text>
<line x1="431.6" y1="340.30" x2="435.8" y2="340.30" stroke="#000" stroke-width="1"/>
<text x="427.80" y="344.60" font-size="12" text-anchor="end">50</text>
<line x1="431.6" y1="308.30" x2="435.8" y2="308.30" stroke="#000" stroke-width="1"/>
<text x="427.80" y="312.60" font-size="12" text-anchor="end">100</text>
<line x1="450.20" y1="404.0" x2="450.20" y2="407.6" stroke="#000" stroke-width="1"/>
<text x="449.00" y="419.90" font-size="11.6" text-anchor="middle">P0</text>
<line x1="480.62" y1="404.0" x2="480.62" y2="407.6" stroke="#000" stroke-width="1"/>
<text x="479.42" y="419.90" font-size="11.6" text-anchor="middle">G1</text>
<line x1="511.04" y1="404.0" x2="511.04" y2="407.6" stroke="#000" stroke-width="1"/>
<text x="509.84" y="419.90" font-size="11.6" text-anchor="middle">G2</text>
<line x1="541.46" y1="404.0" x2="541.46" y2="407.6" stroke="#000" stroke-width="1"/>
<text x="540.26" y="419.90" font-size="11.6" text-anchor="middle">G3</text>
<line x1="571.88" y1="404.0" x2="571.88" y2="407.6" stroke="#000" stroke-width="1"/>
<text x="570.68" y="419.90" font-size="11.6" text-anchor="middle">G4</text>
<line x1="602.30" y1="404.0" x2="602.30" y2="407.6" stroke="#000" stroke-width="1"/>
<text x="601.10" y="419.90" font-size="11.6" text-anchor="middle">G5</text>
<line x1="632.72" y1="404.0" x2="632.72" y2="407.6" stroke="#000" stroke-width="1"/>
<text x="631.52" y="419.90" font-size="11.6" text-anchor="middle">G6</text>
<line x1="663.14" y1="404.0" x2="663.14" y2="407.6" stroke="#000" stroke-width="1"/>
<text x="661.94" y="419.90" font-size="11.6" text-anchor="middle">G7</text>
<text x="557.50" y="437.80" font-size="11.6" text-anchor="middle"># Generation</text>
<text transform="translate(402.7,421.5) rotate(-90)" font-size="11.7">% of derepressed animals</text>
<polyline points="450.20,372.30 480.62,308.30 511.04,308.30 541.46,308.30 571.88,308.30 602.30,308.30 632.72,308.30 663.14,308.30" stroke="#e0473a" stroke-width="1.4" fill="none"/>
<circle cx="450.20" cy="372.30" r="2.6" fill="#e0473a"/>
<circle cx="480.62" cy="308.30" r="2.6" fill="#e0473a"/>
<circle cx="511.04" cy="308.30" r="2.6" fill="#e0473a"/>
<circle cx="541.46" cy="308.30" r="2.6" fill="#e0473a"/>
<circle cx="571.88" cy="308.30" r="2.6" fill="#e0473a"/>
<circle cx="602.30" cy="308.30" r="2.6" fill="#e0473a"/>
<circle cx="632.72" cy="308.30" r="2.6" fill="#e0473a"/>
<circle cx="663.14" cy="308.30" r="2.6" fill="#e0473a"/>
<path d="M480.62,356.30V378.70M477.42,356.30h6.4M477.42,378.70h6.4" stroke="#cfcfcf" stroke-width="1.4" fill="none"/>
<path d="M511.04,356.30V378.70M507.84,356.30h6.4M507.84,378.70h6.4" stroke="#cfcfcf" stroke-width="1.4" fill="none"/>
<path d="M541.46,346.70V381.26M538.26,346.70h6.4M538.26,381.26h6.4" stroke="#cfcfcf" stroke-width="1.4" fill="none"/>
<path d="M571.88,330.38V377.42M568.68,330.38h6.4M568.68,377.42h6.4" stroke="#cfcfcf" stroke-width="1.4" fill="none"/>
<path d="M602.30,313.42V351.82M599.10,313.42h6.4M599.10,351.82h6.4" stroke="#cfcfcf" stroke-width="1.4" fill="none"/>
<path d="M632.72,309.20V333.26M629.52,309.20h6.4M629.52,333.26h6.4" stroke="#cfcfcf" stroke-width="1.4" fill="none"/>
<path d="M663.14,304.46V324.30M659.94,304.46h6.4M659.94,324.30h6.4" stroke="#cfcfcf" stroke-width="1.4" fill="none"/>
<polyline points="450.20,372.30 480.62,368.46 511.04,368.46 541.46,363.98 571.88,353.74 602.30,332.62 632.72,320.46 663.14,314.70" stroke="#cfcfcf" stroke-width="1.4" fill="none"/>
<circle cx="450.20" cy="372.30" r="2.6" fill="#cfcfcf"/>
<circle cx="480.62" cy="368.46" r="2.6" fill="#cfcfcf"/>
<circle cx="511.04" cy="368.46" r="2.6" fill="#cfcfcf"/>
<circle cx="541.46" cy="363.98" r="2.6" fill="#cfcfcf"/>
<circle cx="571.88" cy="353.74" r="2.6" fill="#cfcfcf"/>
<circle cx="602.30" cy="332.62" r="2.6" fill="#cfcfcf"/>
<circle cx="632.72" cy="320.46" r="2.6" fill="#cfcfcf"/>
<circle cx="663.14" cy="314.70" r="2.6" fill="#cfcfcf"/>
<path d="M480.62,356.94V378.70M477.42,356.94h6.4M477.42,378.70h6.4" stroke="#727476" stroke-width="1.4" fill="none"/>
<path d="M511.04,328.14V372.94M507.84,328.14h6.4M507.84,372.94h6.4" stroke="#727476" stroke-width="1.4" fill="none"/>
<path d="M541.46,307.66V372.94M538.26,307.66h6.4M538.26,372.94h6.4" stroke="#727476" stroke-width="1.4" fill="none"/>
<path d="M571.88,296.40V347.34M568.68,296.40h6.4M568.68,347.34h6.4" stroke="#727476" stroke-width="1.4" fill="none"/>
<path d="M602.30,297.42V339.02M599.10,297.42h6.4M599.10,339.02h6.4" stroke="#727476" stroke-width="1.4" fill="none"/>
<polyline points="450.20,372.30 480.62,368.46 511.04,350.54 541.46,340.30 571.88,322.38 602.30,318.22 632.72,308.30 663.14,308.30" stroke="#727476" stroke-width="1.4" fill="none"/>
<circle cx="450.20" cy="372.30" r="2.6" fill="#727476"/>
<circle cx="480.62" cy="368.46" r="2.6" fill="#727476"/>
<circle cx="511.04" cy="350.54" r="2.6" fill="#727476"/>
<circle cx="541.46" cy="340.30" r="2.6" fill="#727476"/>
<circle cx="571.88" cy="322.38" r="2.6" fill="#727476"/>
<circle cx="602.30" cy="318.22" r="2.6" fill="#727476"/>
<circle cx="632.72" cy="308.30" r="2.6" fill="#727476"/>
<circle cx="663.14" cy="308.30" r="2.6" fill="#727476"/>
<path d="M602.30,368.46V373.58M599.10,368.46h6.4M599.10,373.58h6.4" stroke="#000" stroke-width="1.4" fill="none"/>
<path d="M632.72,355.92V377.61M629.52,355.92h6.4M629.52,377.61h6.4" stroke="#000" stroke-width="1.4" fill="none"/>
<path d="M663.14,352.20V377.10M659.94,352.20h6.4M659.94,377.10h6.4" stroke="#000" stroke-width="1.4" fill="none"/>
<polyline points="450.20,372.30 480.62,372.30 511.04,372.30 541.46,372.30 571.88,372.30 602.30,371.02 632.72,366.28 663.14,364.30" stroke="#000" stroke-width="1.4" fill="none"/>
<circle cx="450.20" cy="372.30" r="2.6" fill="#000"/>
<circle cx="480.62" cy="372.30" r="2.6" fill="#000"/>
<circle cx="511.04" cy="372.30" r="2.6" fill="#000"/>
<circle cx="541.46" cy="372.30" r="2.6" fill="#000"/>
<circle cx="571.88" cy="372.30" r="2.6" fill="#000"/>
<circle cx="602.30" cy="371.02" r="2.6" fill="#000"/>
<circle cx="632.72" cy="366.28" r="2.6" fill="#000"/>
<circle cx="663.14" cy="364.30" r="2.6" fill="#000"/>
<line x1="420.5" y1="450.9" x2="439.0" y2="450.9" stroke="#000" stroke-width="1.4"/>
<circle cx="429.9" cy="450.9" r="2.6" fill="#000"/>
<text x="446.20" y="454.60" font-size="11.6">wild-type</text>
<line x1="420.5" y1="467.2" x2="439.0" y2="467.2" stroke="#e0473a" stroke-width="1.4"/>
<circle cx="429.9" cy="467.2" r="2.6" fill="#e0473a"/>
<text x="446.20" y="470.90" font-size="11.6" font-style="italic">hrde-1(tm1200)</text>
<line x1="563.3" y1="450.9" x2="581.8" y2="450.9" stroke="#727476" stroke-width="1.4"/>
<circle cx="572.6999999999999" cy="450.9" r="2.6" fill="#727476"/>
<text x="590.50" y="454.60" font-size="11.6" font-style="italic">set-24(mf123)</text>
<line x1="563.3" y1="467.0" x2="581.8" y2="467.0" stroke="#cfcfcf" stroke-width="1.4"/>
<circle cx="572.6999999999999" cy="467.0" r="2.6" fill="#cfcfcf"/>
<text x="590.50" y="470.70" font-size="11.6" font-style="italic">set-24(mj617)</text>
<text x="-0.80" y="21.00" font-size="21">a</text>
<g transform="translate(32.20,9.20) scale(1.000,1.000)"><path d="M0.8,8.8 C0.2,5.5 1.2,3.2 3.2,3.2 C5.2,3.2 5.5,5.5 6,7.5 C6.6,9.8 10,10 11,7.5 C11.8,5.5 11,2.5 9.3,0.3" stroke="#237a39" stroke-width="2.1" fill="none" stroke-linecap="round"/><path d="M0.8,8.8 C0.2,5.5 1.2,3.2 3.2,3.2 C5.2,3.2 5.5,5.5 6,7.5 C6.6,9.8 10,10 11,7.5 C11.8,5.5 11,2.5 9.3,0.3" stroke="#45b05e" stroke-width="0.9" fill="none" stroke-linecap="round"/></g>
<g transform="translate(46.20,2.00) scale(1.000,1.000)"><path d="M0.8,8.8 C0.2,5.5 1.2,3.2 3.2,3.2 C5.2,3.2 5.5,5.5 6,7.5 C6.6,9.8 10,10 11,7.5 C11.8,5.5 11,2.5 9.3,0.3" stroke="#237a39" stroke-width="2.1" fill="none" stroke-linecap="round"/><path d="M0.8,8.8 C0.2,5.5 1.2,3.2 3.2,3.2 C5.2,3.2 5.5,5.5 6,7.5 C6.6,9.8 10,10 11,7.5 C11.8,5.5 11,2.5 9.3,0.3" stroke="#45b05e" stroke-width="0.9" fill="none" stroke-linecap="round"/></g>
<g transform="translate(46.20,14.20) scale(1.000,1.000)"><path d="M0.8,8.8 C0.2,5.5 1.2,3.2 3.2,3.2 C5.2,3.2 5.5,5.5 6,7.5 C6.6,9.8 10,10 11,7.5 C11.8,5.5 11,2.5 9.3,0.3" stroke="#237a39" stroke-width="2.1" fill="none" stroke-linecap="round"/><path d="M0.8,8.8 C0.2,5.5 1.2,3.2 3.2,3.2 C5.2,3.2 5.5,5.5 6,7.5 C6.6,9.8 10,10 11,7.5 C11.8,5.5 11,2.5 9.3,0.3" stroke="#45b05e" stroke-width="0.9" fill="none" stroke-linecap="round"/></g>
<text x="62.60" y="15.90" font-size="5.3" fill="#333" textLength="12.6" lengthAdjust="spacingAndGlyphs">3 L4s</text>
<path d="M62.5,19.3 C65.5,21 66.6,24 66.6,27" stroke="#222" stroke-width="0.6" fill="none"/>
<path d="M65.3,25.8 L66.6,29 L67.9,25.8 Z" fill="#222"/>
<path d="M44.0,47.0C45.0,45.8 48.0,43.7 50.9,43.3C53.8,43.0 57.8,44.4 61.2,44.9C64.7,45.4 69.0,45.2 71.5,46.2C74.1,47.2 76.4,49.1 76.7,50.9C77.0,52.7 75.6,55.9 73.3,57.2C71.0,58.5 66.7,58.6 62.9,58.8C59.2,59.0 54.2,58.9 50.9,58.3C47.6,57.7 44.0,56.7 43.0,55.3C42.0,54.0 44.9,51.5 45.1,50.1C45.2,48.7 43.0,48.1 44.0,47.0Z" fill="#90cf96"/>
<ellipse cx="58.90" cy="47.70" rx="32.8" ry="17.9" fill="none" stroke="#262626" stroke-width="0.85"/><ellipse cx="58.90" cy="55.60" rx="32.8" ry="18.0" fill="none" stroke="#262626" stroke-width="0.75"/><path d="M26.10,47.70V55.60M91.70,47.70V55.60" stroke="#262626" stroke-width="0.8"/>
<text x="43.50" y="71.90" font-size="7.2" fill="#2fae55" font-style="italic" textLength="28" lengthAdjust="spacingAndGlyphs">GFP RNAi</text>
<text x="26.00" y="84.00" font-size="8.6" fill="#222" textLength="72.2" lengthAdjust="spacingAndGlyphs">before silencing (BS)</text>
<path d="M94.2,53.7 H102.5" stroke="#222" stroke-width="0.6"/><path d="M101.6,52.4 L104.6,53.7 L101.6,55 Z" fill="#222"/>
<path d="M123.7,47.4C124.7,46.2 128.1,44.0 131.2,43.6C134.3,43.3 138.7,44.8 142.4,45.3C146.2,45.7 150.9,45.5 153.7,46.6C156.5,47.6 159.0,49.5 159.3,51.5C159.6,53.4 158.1,56.6 155.6,58.0C153.1,59.3 148.4,59.4 144.3,59.6C140.2,59.8 134.8,59.7 131.2,59.1C127.6,58.5 123.6,57.4 122.5,56.0C121.5,54.6 124.6,52.1 124.8,50.6C125.0,49.2 122.6,48.5 123.7,47.4Z" fill="#90cf96"/>
<ellipse cx="139.55" cy="47.80" rx="33.2" ry="17.9" fill="none" stroke="#262626" stroke-width="0.85"/><ellipse cx="139.55" cy="55.70" rx="33.2" ry="18.0" fill="none" stroke="#262626" stroke-width="0.75"/><path d="M106.35,47.80V55.70M172.75,47.80V55.70" stroke="#262626" stroke-width="0.8"/>
<g transform="translate(124.50,38.50) scale(0.958,1.000)"><path d="M0.8,8.8 C0.2,5.5 1.2,3.2 3.2,3.2 C5.2,3.2 5.5,5.5 6,7.5 C6.6,9.8 10,10 11,7.5 C11.8,5.5 11,2.5 9.3,0.3" stroke="#3a3a3a" stroke-width="2.1" fill="none" stroke-linecap="round"/><path d="M0.8,8.8 C0.2,5.5 1.2,3.2 3.2,3.2 C5.2,3.2 5.5,5.5 6,7.5 C6.6,9.8 10,10 11,7.5 C11.8,5.5 11,2.5 9.3,0.3" stroke="#fff" stroke-width="1.0" fill="none" stroke-linecap="round"/></g>
<g transform="translate(143.00,40.00) scale(1.000,1.000)"><path d="M0.8,8.8 C0.2,5.5 1.2,3.2 3.2,3.2 C5.2,3.2 5.5,5.5 6,7.5 C6.6,9.8 10,10 11,7.5 C11.8,5.5 11,2.5 9.3,0.3" stroke="#3a3a3a" stroke-width="2.1" fill="none" stroke-linecap="round"/><path d="M0.8,8.8 C0.2,5.5 1.2,3.2 3.2,3.2 C5.2,3.2 5.5,5.5 6,7.5 C6.6,9.8 10,10 11,7.5 C11.8,5.5 11,2.5 9.3,0.3" stroke="#fff" stroke-width="1.0" fill="none" stroke-linecap="round"/></g>
<g transform="translate(119.50,49.00) scale(0.917,1.000)"><path d="M0.8,8.8 C0.2,5.5 1.2,3.2 3.2,3.2 C5.2,3.2 5.5,5.5 6,7.5 C6.6,9.8 10,10 11,7.5 C11.8,5.5 11,2.5 9.3,0.3" stroke="#3a3a3a" stroke-width="2.1" fill="none" stroke-linecap="round"/><path d="M0.8,8.8 C0.2,5.5 1.2,3.2 3.2,3.2 C5.2,3.2 5.5,5.5 6,7.5 C6.6,9.8 10,10 11,7.5 C11.8,5.5 11,2.5 9.3,0.3" stroke="#fff" stroke-width="1.0" fill="none" stroke-linecap="round"/></g>
<g transform="translate(134.00,51.00) scale(0.917,0.950)"><path d="M0.8,8.8 C0.2,5.5 1.2,3.2 3.2,3.2 C5.2,3.2 5.5,5.5 6,7.5 C6.6,9.8 10,10 11,7.5 C11.8,5.5 11,2.5 9.3,0.3" stroke="#3a3a3a" stroke-width="2.1" fill="none" stroke-linecap="round"/><path d="M0.8,8.8 C0.2,5.5 1.2,3.2 3.2,3.2 C5.2,3.2 5.5,5.5 6,7.5 C6.6,9.8 10,10 11,7.5 C11.8,5.5 11,2.5 9.3,0.3" stroke="#fff" stroke-width="1.0" fill="none" stroke-linecap="round"/></g>
<g transform="translate(151.00,51.00) scale(1.000,0.950)"><path d="M0.8,8.8 C0.2,5.5 1.2,3.2 3.2,3.2 C5.2,3.2 5.5,5.5 6,7.5 C6.6,9.8 10,10 11,7.5 C11.8,5.5 11,2.5 9.3,0.3" stroke="#3a3a3a" stroke-width="2.1" fill="none" stroke-linecap="round"/><path d="M0.8,8.8 C0.2,5.5 1.2,3.2 3.2,3.2 C5.2,3.2 5.5,5.5 6,7.5 C6.6,9.8 10,10 11,7.5 C11.8,5.5 11,2.5 9.3,0.3" stroke="#fff" stroke-width="1.0" fill="none" stroke-linecap="round"/></g>
<text x="124.00" y="71.90" font-size="7.2" fill="#2fae55" font-style="italic" textLength="28.3" lengthAdjust="spacingAndGlyphs">GFP RNAi</text>
<text x="136.90" y="84.70" font-size="8.5" fill="#222" textLength="8.6" lengthAdjust="spacingAndGlyphs">P0</text>
<g transform="translate(158,0) scale(1.0)"><path d="M7.2,15 C6.8,12 5.5,9 6.5,5.5 C7.3,3 11.5,3 12.5,5.5 C13.6,8 13.2,12 15.5,14 C17.5,15.5 22,14.5 23.2,11 C24.2,8 22,4 20.6,0" stroke="#444" stroke-width="3.3" fill="none" stroke-linecap="round"/><path d="M7.2,15 C6.8,12 5.5,9 6.5,5.5 C7.3,3 11.5,3 12.5,5.5 C13.6,8 13.2,12 15.5,14 C17.5,15.5 22,14.5 23.2,11 C24.2,8 22,4 20.6,0" stroke="#fff" stroke-width="1.9" fill="none" stroke-linecap="round"/></g>
<path d="M157.2,27.3 C162,21 172,18.5 180,19.3 C188,20 194,22.5 197.5,25.2" stroke="#222" stroke-width="0.6" fill="none"/>
<path d="M195.3,23.6 L199.2,26.6 L195.0,26.4 Z" fill="#222"/>
<text x="160.60" y="31.80" font-size="6.8" fill="#222" textLength="30.9" lengthAdjust="spacingAndGlyphs">1 adult OFF</text>
<path d="M200.6,47.5C201.6,46.4 204.8,44.3 207.8,43.9C210.7,43.6 214.9,45.0 218.5,45.5C222.1,46.0 226.5,45.7 229.2,46.7C231.9,47.7 234.3,49.6 234.6,51.5C234.9,53.3 233.4,56.4 231.0,57.7C228.6,59.0 224.2,59.1 220.3,59.3C216.4,59.5 211.2,59.4 207.8,58.8C204.3,58.3 200.5,57.2 199.5,55.8C198.5,54.5 201.5,52.1 201.7,50.7C201.8,49.3 199.6,48.7 200.6,47.5Z" fill="#d8bc9f"/>
<ellipse cx="216.35" cy="47.90" rx="33.1" ry="17.9" fill="none" stroke="#262626" stroke-width="0.85"/><ellipse cx="216.35" cy="55.80" rx="33.1" ry="18.0" fill="none" stroke="#262626" stroke-width="0.75"/><path d="M183.25,47.90V55.80M249.45,47.90V55.80" stroke="#262626" stroke-width="0.8"/>
<g transform="translate(198.00,42.00) scale(0.975,0.900)"><path d="M0.8,8.8 C0.2,5.5 1.2,3.2 3.2,3.2 C5.2,3.2 5.5,5.5 6,7.5 C6.6,9.8 10,10 11,7.5 C11.8,5.5 11,2.5 9.3,0.3" stroke="#3a3a3a" stroke-width="2.1" fill="none" stroke-linecap="round"/><path d="M0.8,8.8 C0.2,5.5 1.2,3.2 3.2,3.2 C5.2,3.2 5.5,5.5 6,7.5 C6.6,9.8 10,10 11,7.5 C11.8,5.5 11,2.5 9.3,0.3" stroke="#fff" stroke-width="1.0" fill="none" stroke-linecap="round"/></g>
<g transform="translate(217.30,42.40) scale(1.042,0.930)"><path d="M0.8,8.8 C0.2,5.5 1.2,3.2 3.2,3.2 C5.2,3.2 5.5,5.5 6,7.5 C6.6,9.8 10,10 11,7.5 C11.8,5.5 11,2.5 9.3,0.3" stroke="#3a3a3a" stroke-width="2.1" fill="none" stroke-linecap="round"/><path d="M0.8,8.8 C0.2,5.5 1.2,3.2 3.2,3.2 C5.2,3.2 5.5,5.5 6,7.5 C6.6,9.8 10,10 11,7.5 C11.8,5.5 11,2.5 9.3,0.3" stroke="#fff" stroke-width="1.0" fill="none" stroke-linecap="round"/></g>
<g transform="translate(192.40,50.00) scale(0.917,1.000)"><path d="M0.8,8.8 C0.2,5.5 1.2,3.2 3.2,3.2 C5.2,3.2 5.5,5.5 6,7.5 C6.6,9.8 10,10 11,7.5 C11.8,5.5 11,2.5 9.3,0.3" stroke="#3a3a3a" stroke-width="2.1" fill="none" stroke-linecap="round"/><path d="M0.8,8.8 C0.2,5.5 1.2,3.2 3.2,3.2 C5.2,3.2 5.5,5.5 6,7.5 C6.6,9.8 10,10 11,7.5 C11.8,5.5 11,2.5 9.3,0.3" stroke="#fff" stroke-width="1.0" fill="none" stroke-linecap="round"/></g>
<g transform="translate(207.30,53.30) scale(1.000,1.040)"><path d="M0.8,8.8 C0.2,5.5 1.2,3.2 3.2,3.2 C5.2,3.2 5.5,5.5 6,7.5 C6.6,9.8 10,10 11,7.5 C11.8,5.5 11,2.5 9.3,0.3" stroke="#237a39" stroke-width="2.1" fill="none" stroke-linecap="round"/><path d="M0.8,8.8 C0.2,5.5 1.2,3.2 3.2,3.2 C5.2,3.2 5.5,5.5 6,7.5 C6.6,9.8 10,10 11,7.5 C11.8,5.5 11,2.5 9.3,0.3" stroke="#45b05e" stroke-width="0.9" fill="none" stroke-linecap="round"/></g>
<g transform="translate(224.50,52.90) scale(1.000,0.920)"><path d="M0.8,8.8 C0.2,5.5 1.2,3.2 3.2,3.2 C5.2,3.2 5.5,5.5 6,7.5 C6.6,9.8 10,10 11,7.5 C11.8,5.5 11,2.5 9.3,0.3" stroke="#3a3a3a" stroke-width="2.1" fill="none" stroke-linecap="round"/><path d="M0.8,8.8 C0.2,5.5 1.2,3.2 3.2,3.2 C5.2,3.2 5.5,5.5 6,7.5 C6.6,9.8 10,10 11,7.5 C11.8,5.5 11,2.5 9.3,0.3" stroke="#fff" stroke-width="1.0" fill="none" stroke-linecap="round"/></g>
<text x="205.40" y="72.70" font-size="6.6" fill="#c39a70" font-style="italic" textLength="23" lengthAdjust="spacingAndGlyphs">no RNAi</text>
<text x="213.70" y="84.90" font-size="7.9" fill="#222" textLength="8.8" lengthAdjust="spacingAndGlyphs">G1</text>
<path d="M189.5,85.2 Q189.5,89.1 192.5,89.1 H215.3 L218.2,91.6 V94.2 M218.2,91.6 L221.1,89.1 H244.7 Q247.7,89.1 247.7,85.2" stroke="#4a4a4a" stroke-width="0.75" fill="none"/>
<text x="203.10" y="105.70" font-size="8.6" fill="#222" textLength="28.9" lengthAdjust="spacingAndGlyphs">-&gt; % ON</text>
<g transform="translate(245.5,0.5) scale(1.0)"><path d="M7.2,15 C6.8,12 5.5,9 6.5,5.5 C7.3,3 11.5,3 12.5,5.5 C13.6,8 13.2,12 15.5,14 C17.5,15.5 22,14.5 23.2,11 C24.2,8 22,4 20.6,0" stroke="#444" stroke-width="3.3" fill="none" stroke-linecap="round"/><path d="M7.2,15 C6.8,12 5.5,9 6.5,5.5 C7.3,3 11.5,3 12.5,5.5 C13.6,8 13.2,12 15.5,14 C17.5,15.5 22,14.5 23.2,11 C24.2,8 22,4 20.6,0" stroke="#fff" stroke-width="1.9" fill="none" stroke-linecap="round"/></g>
<path d="M236.5,27.5 C242,21 252,18.5 260,19.5 C268,20.5 273.5,22.5 277,24.8" stroke="#222" stroke-width="0.6" fill="none"/>
<path d="M274.8,23.2 L278.6,26.1 L274.4,26.0 Z" fill="#222"/>
<text x="241.80" y="32.00" font-size="6.8" fill="#222" textLength="32.2" lengthAdjust="spacingAndGlyphs">1 adult OFF</text>
<path d="M279.1,48.0C280.0,46.8 283.1,44.7 286.1,44.4C289.0,44.1 293.1,45.5 296.6,45.9C300.1,46.4 304.4,46.2 307.1,47.2C309.7,48.2 312.0,50.0 312.3,51.8C312.6,53.6 311.1,56.7 308.8,58.0C306.5,59.2 302.1,59.3 298.3,59.5C294.5,59.7 289.4,59.6 286.1,59.0C282.7,58.5 279.0,57.4 278.0,56.1C277.0,54.8 279.9,52.4 280.1,51.0C280.3,49.7 278.1,49.1 279.1,48.0Z" fill="#d8bc9f"/>
<ellipse cx="294.20" cy="47.50" rx="32.6" ry="17.9" fill="none" stroke="#262626" stroke-width="0.85"/><ellipse cx="294.20" cy="55.40" rx="32.6" ry="18.0" fill="none" stroke="#262626" stroke-width="0.75"/><path d="M261.60,47.50V55.40M326.80,47.50V55.40" stroke="#262626" stroke-width="0.8"/>
<g transform="translate(276.00,41.50) scale(1.017,0.960)"><path d="M0.8,8.8 C0.2,5.5 1.2,3.2 3.2,3.2 C5.2,3.2 5.5,5.5 6,7.5 C6.6,9.8 10,10 11,7.5 C11.8,5.5 11,2.5 9.3,0.3" stroke="#237a39" stroke-width="2.1" fill="none" stroke-linecap="round"/><path d="M0.8,8.8 C0.2,5.5 1.2,3.2 3.2,3.2 C5.2,3.2 5.5,5.5 6,7.5 C6.6,9.8 10,10 11,7.5 C11.8,5.5 11,2.5 9.3,0.3" stroke="#45b05e" stroke-width="0.9" fill="none" stroke-linecap="round"/></g>
<g transform="translate(294.80,42.00) scale(1.083,1.000)"><path d="M0.8,8.8 C0.2,5.5 1.2,3.2 3.2,3.2 C5.2,3.2 5.5,5.5 6,7.5 C6.6,9.8 10,10 11,7.5 C11.8,5.5 11,2.5 9.3,0.3" stroke="#237a39" stroke-width="2.1" fill="none" stroke-linecap="round"/><path d="M0.8,8.8 C0.2,5.5 1.2,3.2 3.2,3.2 C5.2,3.2 5.5,5.5 6,7.5 C6.6,9.8 10,10 11,7.5 C11.8,5.5 11,2.5 9.3,0.3" stroke="#45b05e" stroke-width="0.9" fill="none" stroke-linecap="round"/></g>
<g transform="translate(270.30,51.10) scale(0.942,0.920)"><path d="M0.8,8.8 C0.2,5.5 1.2,3.2 3.2,3.2 C5.2,3.2 5.5,5.5 6,7.5 C6.6,9.8 10,10 11,7.5 C11.8,5.5 11,2.5 9.3,0.3" stroke="#237a39" stroke-width="2.1" fill="none" stroke-linecap="round"/><path d="M0.8,8.8 C0.2,5.5 1.2,3.2 3.2,3.2 C5.2,3.2 5.5,5.5 6,7.5 C6.6,9.8 10,10 11,7.5 C11.8,5.5 11,2.5 9.3,0.3" stroke="#45b05e" stroke-width="0.9" fill="none" stroke-linecap="round"/></g>
<g transform="translate(285.10,53.30) scale(1.025,1.010)"><path d="M0.8,8.8 C0.2,5.5 1.2,3.2 3.2,3.2 C5.2,3.2 5.5,5.5 6,7.5 C6.6,9.8 10,10 11,7.5 C11.8,5.5 11,2.5 9.3,0.3" stroke="#237a39" stroke-width="2.1" fill="none" stroke-linecap="round"/><path d="M0.8,8.8 C0.2,5.5 1.2,3.2 3.2,3.2 C5.2,3.2 5.5,5.5 6,7.5 C6.6,9.8 10,10 11,7.5 C11.8,5.5 11,2.5 9.3,0.3" stroke="#45b05e" stroke-width="0.9" fill="none" stroke-linecap="round"/></g>
<g transform="translate(302.20,52.40) scale(1.025,0.970)"><path d="M0.8,8.8 C0.2,5.5 1.2,3.2 3.2,3.2 C5.2,3.2 5.5,5.5 6,7.5 C6.6,9.8 10,10 11,7.5 C11.8,5.5 11,2.5 9.3,0.3" stroke="#237a39" stroke-width="2.1" fill="none" stroke-linecap="round"/><path d="M0.8,8.8 C0.2,5.5 1.2,3.2 3.2,3.2 C5.2,3.2 5.5,5.5 6,7.5 C6.6,9.8 10,10 11,7.5 C11.8,5.5 11,2.5 9.3,0.3" stroke="#45b05e" stroke-width="0.9" fill="none" stroke-linecap="round"/></g>
<text x="283.00" y="72.90" font-size="6.6" fill="#c39a70" font-style="italic" textLength="23" lengthAdjust="spacingAndGlyphs">no RNAi</text>
<text x="285.80" y="85.90" font-size="7.6" fill="#222" textLength="15.4" lengthAdjust="spacingAndGlyphs">...Gn</text>
<path d="M266.5,84.6 Q266.5,88.9 269.5,88.9 H292.4 L295.3,91.4 V94.4 M295.3,91.4 L298.2,88.9 H321.6 Q324.6,88.9 324.6,84.6" stroke="#4a4a4a" stroke-width="0.75" fill="none"/>
<text x="279.40" y="105.90" font-size="8.6" fill="#222" textLength="29.3" lengthAdjust="spacingAndGlyphs">-&gt; % ON</text>
<defs><filter id="bl1" filterUnits="userSpaceOnUse" x="-40" y="-40" width="160" height="160"><feGaussianBlur stdDeviation="1.2"/></filter><filter id="bl2" filterUnits="userSpaceOnUse" x="-40" y="-40" width="160" height="160"><feGaussianBlur stdDeviation="2.5"/></filter><filter id="bl3" filterUnits="userSpaceOnUse" x="-40" y="-40" width="160" height="160"><feGaussianBlur stdDeviation="4"/></filter><filter id="bl05" filterUnits="userSpaceOnUse" x="-40" y="-40" width="160" height="160"><feGaussianBlur stdDeviation="0.5"/></filter></defs>
<clipPath id="c00"><rect x="0" y="0" width="72.0" height="72.0"/></clipPath><g transform="translate(389,38)" clip-path="url(#c00)"><rect width="73" height="73" fill="#a5a9ac"/><path d="M-2,49 L49,-2 L76,-2 L76,5 L6,75 L-2,75 Z" fill="#8f9396" filter="url(#bl05)"/><path d="M-2,55 L55,-2 L76,-2 L76,1 L3,75 L-2,75 Z" fill="#686c6f" filter="url(#bl1)"/><path d="M-2,58 L58,-2 L72,-2 L-2,72 Z" fill="#585c5f" filter="url(#bl2)"/><path d="M-2,49 L49,-2" stroke="#a9adb0" stroke-width="1" fill="none" filter="url(#bl05)"/><path d="M6,75 L76,5" stroke="#a2a6a9" stroke-width="1" fill="none" filter="url(#bl05)"/><path d="M2,72 L72,2" stroke="#7c8083" stroke-width="3" fill="none" filter="url(#bl1)"/><circle cx="58.0" cy="13.5" r="1.45" fill="#52c45a" opacity="0.8"/><circle cx="55.0" cy="17.0" r="1.45" fill="#52c45a" opacity="0.8"/><circle cx="52.0" cy="20.5" r="1.45" fill="#52c45a" opacity="0.8"/><circle cx="48.5" cy="23.5" r="1.45" fill="#52c45a" opacity="0.8"/><circle cx="45.0" cy="27.0" r="1.45" fill="#52c45a" opacity="0.8"/><circle cx="41.5" cy="30.5" r="1.45" fill="#52c45a" opacity="0.8"/><circle cx="38.0" cy="33.5" r="1.45" fill="#52c45a" opacity="0.8"/><circle cx="34.0" cy="37.0" r="1.45" fill="#52c45a" opacity="0.8"/><circle cx="30.5" cy="40.5" r="1.45" fill="#52c45a" opacity="0.8"/><circle cx="27.0" cy="43.5" r="1.45" fill="#52c45a" opacity="0.8"/><circle cx="23.0" cy="47.0" r="1.45" fill="#52c45a" opacity="0.8"/><circle cx="19.5" cy="50.5" r="1.45" fill="#52c45a" opacity="0.8"/><circle cx="16.5" cy="53.5" r="1.45" fill="#52c45a" opacity="0.8"/><circle cx="38.0" cy="8.0" r="0.7" fill="#52c45a" opacity="0.6"/><circle cx="34.0" cy="12.0" r="0.7" fill="#52c45a" opacity="0.6"/><circle cx="20.0" cy="30.0" r="0.7" fill="#52c45a" opacity="0.6"/><circle cx="14.0" cy="36.0" r="0.7" fill="#52c45a" opacity="0.6"/><circle cx="8.0" cy="44.0" r="0.7" fill="#52c45a" opacity="0.6"/><circle cx="30.0" cy="26.0" r="0.7" fill="#52c45a" opacity="0.6"/><circle cx="12.0" cy="48.0" r="0.7" fill="#52c45a" opacity="0.6"/><circle cx="6.0" cy="58.0" r="0.7" fill="#52c45a" opacity="0.6"/><circle cx="4.0" cy="52.0" r="0.7" fill="#52c45a" opacity="0.6"/><circle cx="24.0" cy="20.0" r="0.7" fill="#52c45a" opacity="0.6"/><circle cx="42.0" cy="14.0" r="0.7" fill="#52c45a" opacity="0.6"/><text x="1.1" y="11.3" font-size="10" fill="#72d35a" textLength="20" lengthAdjust="spacingAndGlyphs">GFP</text><text x="1.1" y="21.8" font-size="10" fill="#4a4a4a" textLength="17.1" lengthAdjust="spacingAndGlyphs">DIC</text><text x="41.1" y="64.6" font-size="7.6" fill="#fff" textLength="23.7" lengthAdjust="spacingAndGlyphs">100 µm</text><rect x="41" y="67" width="25" height="1.6" fill="#fff"/></g>
<clipPath id="c01"><rect x="0" y="0" width="72.7" height="72.0"/></clipPath><g transform="translate(463.3,38)" clip-path="url(#c01)"><rect width="74" height="73" fill="#787c7f"/><path d="M40,-2 L76,-2 L76,75 L20,75 Z" fill="#7f8386" filter="url(#bl3)"/><path d="M-2.0,64.0C0.7,61.3 8.8,53.3 14.0,48.0C19.2,42.7 25.0,37.3 29.0,32.0C33.0,26.7 35.5,21.7 38.0,16.0C40.5,10.3 43.0,1.0 44.0,-2.0L64.0,-2.0C63.7,0.0 63.5,4.8 62.0,10.0C60.5,15.2 58.0,23.2 55.0,29.0C52.0,34.8 47.2,40.5 44.0,45.0C40.8,49.5 39.0,51.0 36.0,56.0C33.0,61.0 27.7,71.8 26.0,75.0Z" fill="#8b8f92" filter="url(#bl05)"/><path d="M-2.0,64.0C0.7,61.3 8.8,53.3 14.0,48.0C19.2,42.7 25.0,37.3 29.0,32.0C33.0,26.7 35.5,21.7 38.0,16.0C40.5,10.3 43.0,1.0 44.0,-2.0" stroke="#b3b7b9" stroke-width="2.6" fill="none" filter="url(#bl05)"/><path d="M26.0,75.0C27.7,71.8 33.0,61.0 36.0,56.0C39.0,51.0 40.8,49.5 44.0,45.0C47.2,40.5 52.0,34.8 55.0,29.0C58.0,23.2 60.5,15.2 62.0,10.0C63.5,4.8 63.7,0.0 64.0,-2.0" stroke="#a4a8aa" stroke-width="1.8" fill="none" filter="url(#bl05)"/><path d="M1.2,66.2C3.9,63.5 12.0,55.5 17.2,50.2C22.4,44.9 28.2,39.5 32.2,34.2C36.2,28.9 38.7,23.9 41.2,18.2C43.7,12.5 46.2,3.2 47.2,0.2" stroke="#65696b" stroke-width="1.6" fill="none" filter="url(#bl1)"/><path d="M10.0,70.0C12.0,67.7 18.0,60.7 22.0,56.0C26.0,51.3 30.3,46.7 34.0,42.0C37.7,37.3 41.0,33.3 44.0,28.0C47.0,22.7 50.2,15.0 52.0,10.0C53.8,5.0 54.5,0.0 55.0,-2.0" stroke="#a2a6a8" stroke-width="3" fill="none" filter="url(#bl1)"/><path d="M8.0,73.0C9.7,71.2 14.3,65.2 18.0,62.0C21.7,58.8 28.0,55.3 30.0,54.0" stroke="#55595b" stroke-width="8" fill="none" filter="url(#bl2)"/><circle cx="57.0" cy="12.0" r="1.0" fill="#52c45a" opacity="0.65"/><circle cx="55.0" cy="18.0" r="1.0" fill="#52c45a" opacity="0.65"/><circle cx="53.0" cy="22.0" r="1.0" fill="#52c45a" opacity="0.65"/><circle cx="51.0" cy="27.0" r="1.0" fill="#52c45a" opacity="0.65"/><circle cx="48.0" cy="32.0" r="1.0" fill="#52c45a" opacity="0.65"/><circle cx="45.0" cy="37.0" r="1.0" fill="#52c45a" opacity="0.65"/><circle cx="42.0" cy="41.0" r="1.0" fill="#52c45a" opacity="0.65"/><circle cx="39.0" cy="44.0" r="1.0" fill="#52c45a" opacity="0.65"/><circle cx="36.0" cy="48.0" r="1.0" fill="#52c45a" opacity="0.65"/><circle cx="32.0" cy="52.0" r="1.0" fill="#52c45a" opacity="0.65"/><circle cx="28.0" cy="56.0" r="1.0" fill="#52c45a" opacity="0.65"/><circle cx="24.0" cy="60.0" r="1.0" fill="#52c45a" opacity="0.65"/><circle cx="20.0" cy="62.0" r="1.0" fill="#52c45a" opacity="0.65"/><circle cx="14.0" cy="66.0" r="1.0" fill="#52c45a" opacity="0.65"/></g>
<clipPath id="c02"><rect x="0" y="0" width="71.7" height="72.0"/></clipPath><g transform="translate(538.3,38)" clip-path="url(#c02)"><rect width="73" height="73" fill="#e8e8e8"/><path d="M-2,-2 L75,-2 L75,18 L74.0,18.0C71.3,19.8 63.0,25.3 58.0,29.0C53.0,32.7 48.7,35.2 44.0,40.0C39.3,44.8 34.0,52.2 30.0,58.0C26.0,63.8 21.7,72.2 20.0,75.0 L-2,75 Z" fill="#8a8e90" filter="url(#bl05)"/><path d="M30.0,66.0C31.7,63.3 36.0,54.7 40.0,50.0C44.0,45.3 48.3,42.0 54.0,38.0C59.7,34.0 70.7,28.0 74.0,26.0" stroke="#b8bcbe" stroke-width="6" fill="none" filter="url(#bl2)"/><path d="M-4.0,24.0C-2.0,22.8 4.0,19.3 8.0,17.0C12.0,14.7 15.3,12.7 20.0,10.0C24.7,7.3 33.3,2.5 36.0,1.0" stroke="#525658" stroke-width="15" fill="none" filter="url(#bl2)"/><path d="M54.0,6.0C56.0,5.3 62.0,3.3 66.0,2.0C70.0,0.7 76.0,-1.3 78.0,-2.0" stroke="#434343" stroke-width="12" fill="none" filter="url(#bl2)"/><path d="M2.0,68.0C4.3,65.3 11.3,56.7 16.0,52.0C20.7,47.3 25.0,44.0 30.0,40.0C35.0,36.0 40.7,32.0 46.0,28.0C51.3,24.0 57.0,19.3 62.0,16.0C67.0,12.7 73.7,9.3 76.0,8.0" stroke="#636363" stroke-width="11" fill="none" filter="url(#bl2)"/><path d="M-2,-2 L26,-2 L-2,14 Z" fill="#c4c8ca" filter="url(#bl1)"/><path d="M0.0,52.0C2.7,49.3 10.7,41.3 16.0,36.0C21.3,30.7 26.3,25.7 32.0,20.0C37.7,14.3 47.0,5.0 50.0,2.0" stroke="#b8b8b8" stroke-width="1.6" fill="none" filter="url(#bl05)"/><path d="M4.0,70.0C7.3,66.3 17.7,54.7 24.0,48.0C30.3,41.3 36.0,35.3 42.0,30.0C48.0,24.7 54.3,19.3 60.0,16.0C65.7,12.7 73.3,11.0 76.0,10.0" stroke="#a0a0a0" stroke-width="1.2" fill="none" filter="url(#bl05)"/><circle cx="37.0" cy="8.0" r="1.3" fill="#52c45a" opacity="0.75"/><circle cx="17.0" cy="24.0" r="1.3" fill="#52c45a" opacity="0.75"/><circle cx="23.0" cy="23.0" r="1.3" fill="#52c45a" opacity="0.75"/><circle cx="33.0" cy="19.0" r="1.3" fill="#52c45a" opacity="0.75"/><circle cx="38.0" cy="26.0" r="1.3" fill="#52c45a" opacity="0.75"/><circle cx="29.0" cy="34.0" r="1.3" fill="#52c45a" opacity="0.75"/><circle cx="21.0" cy="44.0" r="1.3" fill="#52c45a" opacity="0.75"/><circle cx="18.0" cy="49.0" r="1.3" fill="#52c45a" opacity="0.75"/><circle cx="52.0" cy="14.0" r="1.3" fill="#52c45a" opacity="0.75"/><circle cx="62.0" cy="12.0" r="1.3" fill="#52c45a" opacity="0.75"/><circle cx="57.0" cy="22.0" r="1.3" fill="#52c45a" opacity="0.75"/></g>
<clipPath id="c03"><rect x="0" y="0" width="72.0" height="72.0"/></clipPath><g transform="translate(613,38)" clip-path="url(#c03)"><rect width="73" height="73" fill="#afb3b6"/><path d="M24.0,-3.0C23.9,-0.2 23.3,8.5 23.5,14.0C23.7,19.5 23.8,25.0 25.0,30.0C26.2,35.0 28.3,39.8 31.0,44.0C33.7,48.2 37.3,52.2 41.0,55.0C44.7,57.8 49.0,59.7 53.0,61.0C57.0,62.3 61.0,62.5 65.0,63.0C69.0,63.5 75.0,63.8 77.0,64.0" stroke="#8f9396" stroke-width="22" fill="none" filter="url(#bl1)"/><ellipse cx="72" cy="8" rx="37" ry="44" fill="#c6cacc" filter="url(#bl05)"/><path d="M35.5,-3.0C35.2,-0.2 33.8,8.5 34.0,14.0C34.2,19.5 35.2,25.3 37.0,30.0C38.8,34.7 41.7,38.7 45.0,42.0C48.3,45.3 52.8,48.2 57.0,50.0C61.2,51.8 66.5,52.5 70.0,53.0C73.5,53.5 76.7,53.0 78.0,53.0" stroke="#a0a4a6" stroke-width="1.5" fill="none" filter="url(#bl05)"/><path d="M29.0,-3.0C28.8,-0.2 27.8,8.5 28.0,14.0C28.2,19.5 28.5,25.0 30.0,30.0C31.5,35.0 34.0,40.0 37.0,44.0C40.0,48.0 43.8,51.5 48.0,54.0C52.2,56.5 57.2,57.8 62.0,59.0C66.8,60.2 74.5,60.7 77.0,61.0" stroke="#6c7073" stroke-width="4" fill="none" filter="url(#bl1)"/><path d="M52.0,72.0C53.7,71.0 58.0,67.0 62.0,66.0C66.0,65.0 73.7,66.0 76.0,66.0" stroke="#72767a" stroke-width="8" fill="none" filter="url(#bl2)"/><circle cx="14.0" cy="12.0" r="1.4" fill="#52c45a" opacity="0.75"/><circle cx="14.0" cy="18.0" r="1.4" fill="#52c45a" opacity="0.75"/><circle cx="14.0" cy="25.0" r="1.4" fill="#52c45a" opacity="0.75"/><circle cx="15.0" cy="30.0" r="1.4" fill="#52c45a" opacity="0.75"/><circle cx="17.0" cy="34.0" r="1.4" fill="#52c45a" opacity="0.75"/><circle cx="19.0" cy="41.0" r="1.4" fill="#52c45a" opacity="0.75"/><circle cx="23.0" cy="47.0" r="1.4" fill="#52c45a" opacity="0.75"/><circle cx="26.0" cy="51.0" r="1.4" fill="#52c45a" opacity="0.75"/><circle cx="30.0" cy="54.0" r="1.4" fill="#52c45a" opacity="0.75"/><circle cx="34.0" cy="57.0" r="1.4" fill="#52c45a" opacity="0.75"/><circle cx="38.0" cy="60.0" r="1.4" fill="#52c45a" opacity="0.75"/><circle cx="58.0" cy="56.0" r="1.4" fill="#52c45a" opacity="0.75"/><circle cx="57.0" cy="60.0" r="1.4" fill="#52c45a" opacity="0.75"/><circle cx="58.0" cy="69.0" r="1.4" fill="#52c45a" opacity="0.75"/></g>
<clipPath id="c10"><rect x="0" y="0" width="72.0" height="72.0"/></clipPath><g transform="translate(389,113.5)" clip-path="url(#c10)"><rect width="73" height="73" fill="#888c8f"/><path d="M-2.0,64.0C0.7,60.7 8.7,50.3 14.0,44.0C19.3,37.7 24.7,32.0 30.0,26.0C35.3,20.0 41.7,12.7 46.0,8.0C50.3,3.3 54.3,-0.3 56.0,-2.0L72.0,2.0C69.7,5.0 63.3,13.7 58.0,20.0C52.7,26.3 45.7,34.0 40.0,40.0C34.3,46.0 29.0,50.2 24.0,56.0C19.0,61.8 12.3,71.8 10.0,75.0Z" fill="#8d9194" stroke="#a5a9ac" stroke-width="1.5" filter="url(#bl05)"/><path d="M4.0,70.0C6.7,67.0 14.7,58.0 20.0,52.0C25.3,46.0 30.7,40.0 36.0,34.0C41.3,28.0 47.3,21.0 52.0,16.0C56.7,11.0 62.0,6.0 64.0,4.0" stroke="#7f8386" stroke-width="6" fill="none" filter="url(#bl1)"/><path d="M26.0,40.0C27.0,38.3 30.0,32.3 32.0,30.0C34.0,27.7 37.0,26.7 38.0,26.0" stroke="#9fa3a6" stroke-width="3" fill="none" filter="url(#bl1)"/></g>
<clipPath id="c11"><rect x="0" y="0" width="72.7" height="72.0"/></clipPath><g transform="translate(463.3,113.5)" clip-path="url(#c11)"><rect width="74" height="73" fill="#9fa3a6"/><path d="M-2.0,48.0C0.3,46.7 8.0,42.7 12.0,40.0C16.0,37.3 18.7,35.3 22.0,32.0C25.3,28.7 28.7,24.0 32.0,20.0C35.3,16.0 38.0,11.2 42.0,8.0C46.0,4.8 53.0,2.7 56.0,1.0C59.0,-0.7 59.3,-1.5 60.0,-2.0L75.0,14.0C73.5,14.2 69.2,14.0 66.0,15.0C62.8,16.0 59.7,17.7 56.0,20.0C52.3,22.3 47.7,25.7 44.0,29.0C40.3,32.3 37.7,36.0 34.0,40.0C30.3,44.0 26.0,49.7 22.0,53.0C18.0,56.3 14.0,57.5 10.0,60.0C6.0,62.5 0.0,66.7 -2.0,68.0Z" fill="#8a8e91" stroke="#c0c4c7" stroke-width="1.4" filter="url(#bl05)"/><path d="M-2.0,60.0C0.3,58.7 7.7,55.0 12.0,52.0C16.3,49.0 20.0,46.0 24.0,42.0C28.0,38.0 31.7,32.7 36.0,28.0C40.3,23.3 45.7,17.3 50.0,14.0C54.3,10.7 57.7,9.7 62.0,8.0C66.3,6.3 73.7,4.7 76.0,4.0" stroke="#787c7f" stroke-width="5" fill="none" filter="url(#bl1)"/><path d="M4.0,52.0C6.0,50.8 12.0,48.2 16.0,45.0C20.0,41.8 24.0,37.2 28.0,33.0C32.0,28.8 36.0,23.8 40.0,20.0C44.0,16.2 48.0,12.5 52.0,10.0C56.0,7.5 62.0,5.8 64.0,5.0" stroke="#a3a7aa" stroke-width="2" fill="none" filter="url(#bl1)"/></g>
<clipPath id="c12"><rect x="0" y="0" width="71.7" height="72.0"/></clipPath><g transform="translate(538.3,113.5)" clip-path="url(#c12)"><rect width="73" height="73" fill="#adb1b4"/><ellipse cx="62" cy="52" rx="34" ry="30" fill="#b4b8bb" filter="url(#bl3)"/><path d="M5.0,75.0C5.0,71.8 4.5,61.8 5.0,56.0C5.5,50.2 6.2,45.0 8.0,40.0C9.8,35.0 12.7,30.3 16.0,26.0C19.3,21.7 24.0,17.7 28.0,14.0C32.0,10.3 37.0,6.7 40.0,4.0C43.0,1.3 45.0,-1.0 46.0,-2.0L74.0,2.0C72.0,3.7 66.0,9.0 62.0,12.0C58.0,15.0 54.3,17.3 50.0,20.0C45.7,22.7 40.0,25.3 36.0,28.0C32.0,30.7 28.3,32.7 26.0,36.0C23.7,39.3 22.3,44.0 22.0,48.0C21.7,52.0 22.3,55.5 24.0,60.0C25.7,64.5 30.7,72.5 32.0,75.0Z" fill="#bec2c4" filter="url(#bl05)"/><path d="M5.0,75.0C5.0,71.8 4.5,61.8 5.0,56.0C5.5,50.2 6.2,45.0 8.0,40.0C9.8,35.0 12.7,30.3 16.0,26.0C19.3,21.7 24.0,17.7 28.0,14.0C32.0,10.3 37.0,6.7 40.0,4.0C43.0,1.3 45.0,-1.0 46.0,-2.0" stroke="#858b8d" stroke-width="1.0" fill="none" filter="url(#bl05)"/><path d="M6.6,76.2C6.6,73.0 6.1,63.0 6.6,57.2C7.1,51.4 7.8,46.2 9.6,41.2C11.4,36.2 14.3,31.5 17.6,27.2C20.9,22.9 25.6,18.9 29.6,15.2C33.6,11.5 38.6,7.9 41.6,5.2C44.6,2.5 46.6,0.2 47.6,-0.8" stroke="#e2e6e8" stroke-width="1.6" fill="none" filter="url(#bl05)"/><path d="M32.0,75.0C30.7,72.5 25.7,64.5 24.0,60.0C22.3,55.5 21.7,52.0 22.0,48.0C22.3,44.0 23.7,39.3 26.0,36.0C28.3,32.7 32.0,30.7 36.0,28.0C40.0,25.3 45.7,22.7 50.0,20.0C54.3,17.3 58.0,15.0 62.0,12.0C66.0,9.0 72.0,3.7 74.0,2.0" stroke="#9a9ea0" stroke-width="1" fill="none" filter="url(#bl05)"/><path d="M38.0,24.0C39.3,22.7 43.0,18.3 46.0,16.0C49.0,13.7 52.7,11.7 56.0,10.0C59.3,8.3 64.3,6.7 66.0,6.0" stroke="#8e9294" stroke-width="6" fill="none" filter="url(#bl2)"/><path d="M12.0,70.0C12.2,67.7 12.5,60.3 13.0,56.0C13.5,51.7 13.5,48.0 15.0,44.0C16.5,40.0 20.8,34.0 22.0,32.0" stroke="#d0d4d6" stroke-width="4" fill="none" filter="url(#bl1)"/></g>
<clipPath id="c13"><rect x="0" y="0" width="72.0" height="72.0"/></clipPath><g transform="translate(613,113.5)" clip-path="url(#c13)"><rect width="73" height="73" fill="#c6cacc"/><path d="M-2.0,-2.0C2.0,-2.0 15.7,-3.3 22.0,-2.0C28.3,-0.7 31.7,2.7 36.0,6.0C40.3,9.3 44.0,13.5 48.0,18.0C52.0,22.5 56.7,28.3 60.0,33.0C63.3,37.7 65.5,41.8 68.0,46.0C70.5,50.2 73.8,56.0 75.0,58.0L56.0,75.0C55.0,72.5 52.7,64.7 50.0,60.0C47.3,55.3 44.0,50.8 40.0,47.0C36.0,43.2 30.7,40.2 26.0,37.0C21.3,33.8 16.7,30.5 12.0,28.0C7.3,25.5 0.3,23.0 -2.0,22.0Z" fill="#868a8d" stroke="#6c7073" stroke-width="0.8" filter="url(#bl05)"/><path d="M-2.0,6.0C1.0,7.3 10.7,11.7 16.0,14.0C21.3,16.3 25.3,17.0 30.0,20.0C34.7,23.0 41.7,30.0 44.0,32.0" stroke="#6e7275" stroke-width="8" fill="none" filter="url(#bl2)"/><path d="M36.0,18.0C37.3,18.7 41.7,20.7 44.0,22.0C46.3,23.3 49.0,25.3 50.0,26.0" stroke="#a2a6a9" stroke-width="5" fill="none" filter="url(#bl2)"/><path d="M30.0,36.0C32.3,37.7 40.0,42.3 44.0,46.0C48.0,49.7 51.3,53.7 54.0,58.0C56.7,62.3 59.0,69.7 60.0,72.0" stroke="#74787b" stroke-width="5" fill="none" filter="url(#bl2)"/></g>
<clipPath id="c20"><rect x="0" y="0" width="72.0" height="72.0"/></clipPath><g transform="translate(389,188.5)" clip-path="url(#c20)"><rect width="73" height="73" fill="#c4c8ca"/><ellipse cx="8" cy="6" rx="26" ry="18" fill="#cdd1d3" filter="url(#bl3)"/><path d="M-2.0,58.0C-1.0,55.7 2.0,48.7 4.0,44.0C6.0,39.3 7.7,34.7 10.0,30.0C12.3,25.3 15.0,19.8 18.0,16.0C21.0,12.2 24.0,9.2 28.0,7.0C32.0,4.8 37.0,3.7 42.0,3.0C47.0,2.3 52.5,3.2 58.0,3.0C63.5,2.8 72.2,2.2 75.0,2.0L75.0,30.0C73.2,30.2 67.7,30.0 64.0,31.0C60.3,32.0 56.7,33.7 53.0,36.0C49.3,38.3 45.2,41.3 42.0,45.0C38.8,48.7 35.8,53.0 34.0,58.0C32.2,63.0 31.5,72.2 31.0,75.0Z" fill="#a7abad" filter="url(#bl05)"/><path d="M36.0,5.0C39.3,5.5 49.3,7.3 56.0,8.0C62.7,8.7 72.7,8.8 76.0,9.0" stroke="#9b9fa1" stroke-width="9" fill="none" filter="url(#bl2)"/><path d="M20.0,75.0C20.5,72.0 21.3,62.5 23.0,57.0C24.7,51.5 26.8,46.5 30.0,42.0C33.2,37.5 37.7,33.0 42.0,30.0C46.3,27.0 52.0,25.3 56.0,24.0C60.0,22.7 62.5,22.3 66.0,22.0C69.5,21.7 75.2,22.0 77.0,22.0" stroke="#7b7f81" stroke-width="15" fill="none" filter="url(#bl1)"/><path d="M24.0,75.0C24.5,72.2 25.3,63.2 27.0,58.0C28.7,52.8 31.0,48.2 34.0,44.0C37.0,39.8 41.0,35.8 45.0,33.0C49.0,30.2 54.2,28.3 58.0,27.0C61.8,25.7 64.8,25.3 68.0,25.0C71.2,24.7 75.5,25.0 77.0,25.0" stroke="#6d7173" stroke-width="4" fill="none" filter="url(#bl1)"/><path d="M31.0,75.0C31.5,72.2 32.2,63.0 34.0,58.0C35.8,53.0 38.8,48.7 42.0,45.0C45.2,41.3 49.3,38.3 53.0,36.0C56.7,33.7 60.3,32.0 64.0,31.0C67.7,30.0 73.2,30.2 75.0,30.0" stroke="#dde1e3" stroke-width="1.1" fill="none" filter="url(#bl05)"/><path d="M-2.0,58.0C-1.0,55.7 2.0,48.7 4.0,44.0C6.0,39.3 7.7,34.7 10.0,30.0C12.3,25.3 15.0,19.8 18.0,16.0C21.0,12.2 24.0,9.2 28.0,7.0C32.0,4.8 37.0,3.7 42.0,3.0C47.0,2.3 52.5,3.2 58.0,3.0C63.5,2.8 72.2,2.2 75.0,2.0" stroke="#9a9ea0" stroke-width="1.0" fill="none" filter="url(#bl05)"/><text x="19.2" y="67.3" font-size="9.5" fill="#fff" textLength="46.2" lengthAdjust="spacingAndGlyphs">83%-100%</text></g>
<clipPath id="c21"><rect x="0" y="0" width="72.7" height="72.0"/></clipPath><g transform="translate(463.3,188.5)" clip-path="url(#c21)"><rect width="74" height="73" fill="#7a7e80"/><path d="M-2,-2H76V10C60,8 40,6 20,6 C10,6 0,8 -2,9Z" fill="#aeb2b4" filter="url(#bl1)"/><path d="M60.0,-2.0C61.7,-0.7 67.3,3.7 70.0,6.0C72.7,8.3 75.0,11.0 76.0,12.0" stroke="#b2b6b8" stroke-width="10" fill="none" filter="url(#bl2)"/><path d="M-2.0,19.0C1.7,18.7 12.7,17.2 20.0,17.0C27.3,16.8 35.7,16.8 42.0,18.0C48.3,19.2 53.3,21.3 58.0,24.0C62.7,26.7 67.0,30.7 70.0,34.0C73.0,37.3 75.0,42.3 76.0,44.0" stroke="#8c9092" stroke-width="20" fill="none" filter="url(#bl1)"/><path d="M-2.0,31.0C1.7,30.7 12.7,29.0 20.0,29.0C27.3,29.0 35.7,29.7 42.0,31.0C48.3,32.3 53.7,34.5 58.0,37.0C62.3,39.5 65.0,42.5 68.0,46.0C71.0,49.5 74.7,56.0 76.0,58.0" stroke="#a9adaf" stroke-width="2.5" fill="none" filter="url(#bl1)"/><path d="M-2.0,39.0C1.7,38.7 12.7,37.0 20.0,37.0C27.3,37.0 36.0,37.7 42.0,39.0C48.0,40.3 52.0,42.2 56.0,45.0C60.0,47.8 63.3,51.5 66.0,56.0C68.7,60.5 71.0,69.3 72.0,72.0" stroke="#7c8082" stroke-width="9" fill="none" filter="url(#bl1)"/><path d="M-2.0,51.0C1.7,50.7 13.0,49.0 20.0,49.0C27.0,49.0 34.7,49.8 40.0,51.0C45.3,52.2 48.7,53.5 52.0,56.0C55.3,58.5 58.0,62.7 60.0,66.0C62.0,69.3 63.3,74.3 64.0,76.0" stroke="#55595b" stroke-width="12" fill="none" filter="url(#bl2)"/><ellipse cx="24" cy="76" rx="36" ry="15" fill="#8f9395" filter="url(#bl2)"/><circle cx="13.4" cy="17.8" r="0.95" fill="#5cd05c" opacity="0.75"/><circle cx="19.8" cy="18.9" r="0.95" fill="#5cd05c" opacity="0.75"/><circle cx="32.0" cy="9.2" r="0.95" fill="#5cd05c" opacity="0.75"/><circle cx="2.6" cy="23.1" r="0.95" fill="#5cd05c" opacity="0.75"/><circle cx="14.4" cy="12.2" r="0.95" fill="#5cd05c" opacity="0.75"/><circle cx="49.8" cy="16.5" r="0.95" fill="#5cd05c" opacity="0.75"/><circle cx="42.2" cy="16.6" r="0.95" fill="#5cd05c" opacity="0.75"/><circle cx="32.7" cy="10.7" r="0.95" fill="#5cd05c" opacity="0.75"/><circle cx="32.5" cy="23.6" r="0.95" fill="#5cd05c" opacity="0.75"/><circle cx="27.1" cy="21.3" r="0.95" fill="#5cd05c" opacity="0.75"/><circle cx="34.2" cy="9.2" r="0.95" fill="#5cd05c" opacity="0.75"/><circle cx="38.4" cy="18.6" r="0.95" fill="#5cd05c" opacity="0.75"/><circle cx="16.5" cy="8.6" r="0.95" fill="#5cd05c" opacity="0.75"/><circle cx="43.5" cy="16.5" r="0.95" fill="#5cd05c" opacity="0.75"/><circle cx="36.5" cy="23.8" r="0.95" fill="#5cd05c" opacity="0.75"/><circle cx="36.3" cy="24.6" r="0.95" fill="#5cd05c" opacity="0.75"/><circle cx="21.0" cy="22.4" r="0.95" fill="#5cd05c" opacity="0.75"/><circle cx="23.3" cy="24.8" r="0.95" fill="#5cd05c" opacity="0.75"/><circle cx="44.2" cy="9.8" r="0.95" fill="#5cd05c" opacity="0.75"/><circle cx="48.3" cy="15.9" r="0.95" fill="#5cd05c" opacity="0.75"/><circle cx="32.1" cy="13.4" r="0.95" fill="#5cd05c" opacity="0.75"/><circle cx="26.3" cy="14.9" r="0.95" fill="#5cd05c" opacity="0.75"/><circle cx="18.8" cy="18.5" r="0.95" fill="#5cd05c" opacity="0.75"/><circle cx="30.0" cy="24.3" r="0.95" fill="#5cd05c" opacity="0.75"/><circle cx="34.7" cy="24.7" r="0.95" fill="#5cd05c" opacity="0.75"/><circle cx="43.1" cy="25.8" r="0.95" fill="#5cd05c" opacity="0.75"/><circle cx="34.2" cy="10.9" r="0.95" fill="#5cd05c" opacity="0.75"/><circle cx="43.3" cy="25.4" r="0.95" fill="#5cd05c" opacity="0.75"/><circle cx="45.4" cy="18.2" r="0.95" fill="#5cd05c" opacity="0.75"/><circle cx="36.3" cy="11.8" r="0.95" fill="#5cd05c" opacity="0.75"/><circle cx="41.9" cy="18.3" r="0.95" fill="#5cd05c" opacity="0.75"/><circle cx="15.7" cy="9.1" r="0.95" fill="#5cd05c" opacity="0.75"/><circle cx="43.0" cy="25.8" r="0.95" fill="#5cd05c" opacity="0.75"/><circle cx="6.2" cy="22.4" r="0.95" fill="#5cd05c" opacity="0.75"/><circle cx="21.7" cy="10.7" r="0.95" fill="#5cd05c" opacity="0.75"/><circle cx="16.1" cy="21.8" r="0.95" fill="#5cd05c" opacity="0.75"/><circle cx="43.9" cy="8.8" r="0.95" fill="#5cd05c" opacity="0.75"/><circle cx="31.5" cy="8.8" r="0.95" fill="#5cd05c" opacity="0.75"/><circle cx="36.5" cy="14.0" r="0.95" fill="#5cd05c" opacity="0.75"/><circle cx="44.3" cy="25.7" r="0.95" fill="#5cd05c" opacity="0.75"/><circle cx="26.3" cy="26.0" r="0.95" fill="#5cd05c" opacity="0.75"/><circle cx="16.9" cy="9.4" r="0.95" fill="#5cd05c" opacity="0.75"/><circle cx="30.8" cy="8.6" r="0.95" fill="#5cd05c" opacity="0.75"/><circle cx="11.5" cy="15.3" r="0.95" fill="#5cd05c" opacity="0.75"/><circle cx="31.3" cy="10.8" r="0.95" fill="#5cd05c" opacity="0.75"/><circle cx="4.0" cy="23.6" r="0.95" fill="#5cd05c" opacity="0.75"/><circle cx="17.1" cy="25.3" r="0.95" fill="#5cd05c" opacity="0.75"/><circle cx="45.0" cy="14.8" r="0.95" fill="#5cd05c" opacity="0.75"/><circle cx="24.1" cy="17.4" r="0.95" fill="#5cd05c" opacity="0.75"/><circle cx="32.9" cy="18.7" r="0.95" fill="#5cd05c" opacity="0.75"/><circle cx="28.8" cy="19.2" r="0.95" fill="#5cd05c" opacity="0.75"/><circle cx="47.1" cy="17.1" r="0.95" fill="#5cd05c" opacity="0.75"/><circle cx="22.7" cy="21.0" r="0.95" fill="#5cd05c" opacity="0.75"/><circle cx="13.4" cy="13.4" r="0.95" fill="#5cd05c" opacity="0.75"/><circle cx="48.9" cy="17.4" r="0.95" fill="#5cd05c" opacity="0.75"/><circle cx="28.3" cy="8.2" r="0.95" fill="#5cd05c" opacity="0.75"/><circle cx="21.9" cy="18.4" r="0.95" fill="#5cd05c" opacity="0.75"/><circle cx="3.0" cy="19.1" r="0.95" fill="#5cd05c" opacity="0.75"/><circle cx="32.3" cy="9.1" r="0.95" fill="#5cd05c" opacity="0.75"/><circle cx="32.1" cy="16.4" r="0.95" fill="#5cd05c" opacity="0.75"/><circle cx="34.6" cy="14.3" r="0.95" fill="#5cd05c" opacity="0.75"/><circle cx="35.9" cy="21.3" r="0.95" fill="#5cd05c" opacity="0.75"/><circle cx="34.4" cy="25.3" r="0.95" fill="#5cd05c" opacity="0.75"/><circle cx="14.1" cy="16.2" r="0.95" fill="#5cd05c" opacity="0.75"/><circle cx="30.4" cy="13.8" r="0.95" fill="#5cd05c" opacity="0.75"/><circle cx="19.5" cy="13.6" r="0.95" fill="#5cd05c" opacity="0.75"/><circle cx="19.7" cy="18.7" r="0.95" fill="#5cd05c" opacity="0.75"/><circle cx="16.4" cy="14.8" r="0.95" fill="#5cd05c" opacity="0.75"/><circle cx="16.0" cy="37.0" r="1.2" fill="#52c45a" opacity="0.75"/><circle cx="20.0" cy="36.0" r="1.2" fill="#52c45a" opacity="0.75"/><circle cx="32.0" cy="36.0" r="1.2" fill="#52c45a" opacity="0.75"/><circle cx="38.0" cy="37.0" r="1.2" fill="#52c45a" opacity="0.75"/><circle cx="46.0" cy="39.0" r="1.2" fill="#52c45a" opacity="0.75"/><circle cx="56.0" cy="41.0" r="1.2" fill="#52c45a" opacity="0.75"/><circle cx="62.0" cy="44.0" r="1.2" fill="#52c45a" opacity="0.75"/><circle cx="66.0" cy="50.0" r="1.2" fill="#52c45a" opacity="0.75"/><circle cx="68.0" cy="56.0" r="1.2" fill="#52c45a" opacity="0.75"/><circle cx="70.0" cy="60.0" r="1.2" fill="#52c45a" opacity="0.75"/><text x="42.6" y="67.3" font-size="9.5" fill="#fff" textLength="23" lengthAdjust="spacingAndGlyphs">100%</text></g>
<clipPath id="c22"><rect x="0" y="0" width="71.7" height="72.0"/></clipPath><g transform="translate(538.3,188.5)" clip-path="url(#c22)"><rect width="73" height="73" fill="#7a7e80"/><path d="M-2.0,13.0C0.3,12.7 7.7,11.2 12.0,11.0C16.3,10.8 19.7,11.2 24.0,12.0C28.3,12.8 33.7,13.7 38.0,16.0C42.3,18.3 46.3,22.0 50.0,26.0C53.7,30.0 56.7,34.3 60.0,40.0C63.3,45.7 67.7,54.7 70.0,60.0C72.3,65.3 73.3,70.0 74.0,72.0L56.0,75.0C55.3,72.5 53.7,64.8 52.0,60.0C50.3,55.2 48.3,50.2 46.0,46.0C43.7,41.8 41.3,38.0 38.0,35.0C34.7,32.0 30.3,29.5 26.0,28.0C21.7,26.5 16.7,26.0 12.0,26.0C7.3,26.0 0.3,27.7 -2.0,28.0Z" fill="#686c6e" stroke="#95999b" stroke-width="1.1" filter="url(#bl05)"/><path d="M-2.0,16.0C0.3,15.7 7.3,14.2 12.0,14.0C16.7,13.8 21.7,14.0 26.0,15.0C30.3,16.0 34.3,17.7 38.0,20.0C41.7,22.3 45.0,25.3 48.0,29.0C51.0,32.7 53.3,36.8 56.0,42.0C58.7,47.2 62.0,54.7 64.0,60.0C66.0,65.3 67.3,71.7 68.0,74.0" stroke="#84888a" stroke-width="4" fill="none" filter="url(#bl1)"/><path d="M-2.0,25.0C0.7,24.7 9.0,22.8 14.0,23.0C19.0,23.2 24.0,24.5 28.0,26.0C32.0,27.5 35.0,29.3 38.0,32.0C41.0,34.7 43.7,38.0 46.0,42.0C48.3,46.0 50.3,50.7 52.0,56.0C53.7,61.3 55.3,71.0 56.0,74.0" stroke="#55595b" stroke-width="4" fill="none" filter="url(#bl1)"/><path d="M2.0,2.0C2.5,3.2 4.5,7.8 5.0,9.0" stroke="#4a4e50" stroke-width="1" fill="none"/><path d="M3,2 L8,4 L4,6" stroke="#4a4e50" stroke-width="0.8" fill="none"/><circle cx="12.0" cy="14.0" r="1.5" fill="#52c45a" opacity="0.75"/><circle cx="17.0" cy="14.0" r="1.5" fill="#52c45a" opacity="0.75"/><circle cx="29.0" cy="15.0" r="1.5" fill="#52c45a" opacity="0.75"/><circle cx="34.0" cy="17.0" r="1.5" fill="#52c45a" opacity="0.75"/><circle cx="39.0" cy="20.0" r="1.5" fill="#52c45a" opacity="0.75"/><circle cx="43.0" cy="23.0" r="1.5" fill="#52c45a" opacity="0.75"/><circle cx="47.0" cy="28.0" r="1.5" fill="#52c45a" opacity="0.75"/><circle cx="51.0" cy="33.0" r="1.5" fill="#52c45a" opacity="0.75"/><text x="21.2" y="67.1" font-size="9.5" fill="#fff" textLength="45.7" lengthAdjust="spacingAndGlyphs">24%-100%</text></g>
<clipPath id="c23"><rect x="0" y="0" width="72.0" height="72.0"/></clipPath><g transform="translate(613,188.5)" clip-path="url(#c23)"><rect width="73" height="73" fill="#c1c5c7"/><path d="M-2.0,1.0C0.7,1.3 9.0,1.7 14.0,3.0C19.0,4.3 23.7,6.2 28.0,9.0C32.3,11.8 36.0,15.8 40.0,20.0C44.0,24.2 48.7,29.7 52.0,34.0C55.3,38.3 57.7,42.0 60.0,46.0C62.3,50.0 64.3,53.2 66.0,58.0C67.7,62.8 69.3,72.2 70.0,75.0L50.0,75.0C49.3,71.8 48.0,61.2 46.0,56.0C44.0,50.8 41.0,47.8 38.0,44.0C35.0,40.2 32.0,36.2 28.0,33.0C24.0,29.8 19.0,27.2 14.0,25.0C9.0,22.8 0.7,20.8 -2.0,20.0Z" fill="#8a8e90" stroke="#6e7274" stroke-width="0.8" filter="url(#bl05)"/><path d="M-2.0,8.0C-0.3,8.3 4.7,9.0 8.0,10.0C11.3,11.0 15.0,12.3 18.0,14.0C21.0,15.7 24.7,19.0 26.0,20.0" stroke="#6a6e70" stroke-width="10" fill="none" filter="url(#bl2)"/><path d="M26.0,20.0C27.3,20.3 31.3,20.7 34.0,22.0C36.7,23.3 40.7,27.0 42.0,28.0" stroke="#a3a7a9" stroke-width="6" fill="none" filter="url(#bl2)"/><path d="M30.0,36.0C31.7,37.7 37.0,42.0 40.0,46.0C43.0,50.0 45.7,55.3 48.0,60.0C50.3,64.7 53.0,71.7 54.0,74.0" stroke="#7a7e80" stroke-width="5" fill="none" filter="url(#bl2)"/><ellipse cx="17.5" cy="42.5" rx="6.3" ry="4.8" fill="#9b9fa1" filter="url(#bl05)"/><circle cx="10.0" cy="14.0" r="1.3" fill="#52c45a" opacity="0.75"/><circle cx="16.0" cy="14.0" r="1.3" fill="#52c45a" opacity="0.75"/><circle cx="20.0" cy="15.0" r="1.3" fill="#52c45a" opacity="0.75"/><circle cx="39.0" cy="26.0" r="1.3" fill="#52c45a" opacity="0.75"/><circle cx="43.0" cy="30.0" r="1.3" fill="#52c45a" opacity="0.75"/><circle cx="46.0" cy="33.0" r="1.3" fill="#52c45a" opacity="0.75"/><circle cx="49.0" cy="37.0" r="1.3" fill="#52c45a" opacity="0.75"/><circle cx="51.0" cy="40.0" r="1.3" fill="#52c45a" opacity="0.75"/><circle cx="55.0" cy="44.0" r="1.3" fill="#52c45a" opacity="0.75"/><circle cx="58.0" cy="47.0" r="1.3" fill="#52c45a" opacity="0.75"/><circle cx="61.0" cy="52.0" r="1.3" fill="#52c45a" opacity="0.75"/><text x="29.5" y="67.3" font-size="9.5" fill="#fff" textLength="36.1" lengthAdjust="spacingAndGlyphs">0%-73%</text></g>
<defs><linearGradient id="gr23" x1="0" y1="0" x2="1" y2="1"><stop offset="0" stop-color="#b8b8b8" stop-opacity="0.6"/><stop offset="1" stop-color="#a0a0a0" stop-opacity="0.3"/></linearGradient></defs>
<text x="345.40" y="21.10" font-size="20.5">b</text>
<text x="422.50" y="34.70" font-size="10.7" text-anchor="middle">wild type</text>
<text x="501.10" y="22.90" font-size="10.7" text-anchor="middle" font-style="italic">hrde-1</text>
<text x="501.80" y="36.40" font-size="10.7" text-anchor="middle" font-style="italic">(tm1200)</text>
<text x="573.70" y="22.90" font-size="10.7" text-anchor="middle" font-style="italic">set-24</text>
<text x="574.80" y="36.40" font-size="10.7" text-anchor="middle" font-style="italic">(mf123)</text>
<text x="649.70" y="22.90" font-size="10.7" text-anchor="middle" font-style="italic">set-24</text>
<text x="651.10" y="36.40" font-size="10.7" text-anchor="middle" font-style="italic">(mj617)</text>
<text x="368.60" y="64.80" font-size="10.7" text-anchor="middle">empty</text>
<text x="368.60" y="77.40" font-size="10.7" text-anchor="middle">vector</text>
<text x="368.60" y="90.90" font-size="10.7" text-anchor="middle">RNAi</text>
<text x="371.00" y="137.40" font-size="10.7" text-anchor="middle">GFP</text>
<text x="371.00" y="150.30" font-size="10.7" text-anchor="middle">RNAi</text>
<text x="371.00" y="163.40" font-size="10.7" text-anchor="middle">(P0)</text>
<text x="367.20" y="229.80" font-size="10.8" text-anchor="middle">G1-G7</text>
</svg></body></html>
